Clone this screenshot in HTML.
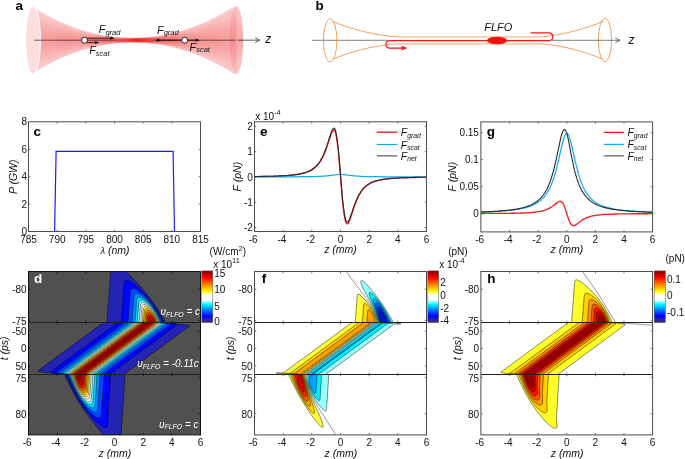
<!DOCTYPE html>
<html><head><meta charset="utf-8"><title>Figure</title>
<style>html,body{margin:0;padding:0;background:#fff;}svg{display:block;will-change:transform;}text{font-family:"Liberation Sans",sans-serif;}</style></head>
<body>
<svg width="685" height="459" viewBox="0 0 685 459" font-family="Liberation Sans, sans-serif">
<defs>
<linearGradient id="bg" x1="33" x2="237" y1="0" y2="0" gradientUnits="userSpaceOnUse"><stop offset="0" stop-color="#f04040" stop-opacity="0.030"/><stop offset="0.25" stop-color="#f04040" stop-opacity="0.045"/><stop offset="0.40" stop-color="#ee3030" stop-opacity="0.10"/><stop offset="0.47" stop-color="#ee2020" stop-opacity="0.17"/><stop offset="0.51" stop-color="#ec1414" stop-opacity="0.22"/><stop offset="0.55" stop-color="#ee2020" stop-opacity="0.17"/><stop offset="0.62" stop-color="#ee3030" stop-opacity="0.10"/><stop offset="0.77" stop-color="#f04040" stop-opacity="0.045"/><stop offset="1" stop-color="#f04040" stop-opacity="0.030"/></linearGradient>
<linearGradient id="bgb" x1="33" x2="237" y1="0" y2="0" gradientUnits="userSpaceOnUse"><stop offset="0" stop-color="#f03c3c" stop-opacity="0.26"/><stop offset="0.25" stop-color="#f03c3c" stop-opacity="0.30"/><stop offset="0.42" stop-color="#ee3030" stop-opacity="0.36"/><stop offset="0.51" stop-color="#ec2020" stop-opacity="0.45"/><stop offset="0.60" stop-color="#ee3030" stop-opacity="0.36"/><stop offset="0.77" stop-color="#f03c3c" stop-opacity="0.30"/><stop offset="1" stop-color="#f03c3c" stop-opacity="0.26"/></linearGradient>
<linearGradient id="axg" x1="34" x2="236" y1="0" y2="0" gradientUnits="userSpaceOnUse"><stop offset="0" stop-color="#2a1a1a" stop-opacity="1"/><stop offset="0.37" stop-color="#2a1a1a" stop-opacity="1"/><stop offset="0.44" stop-color="#2a1a1a" stop-opacity="0"/><stop offset="0.57" stop-color="#2a1a1a" stop-opacity="0"/><stop offset="0.63" stop-color="#2a1a1a" stop-opacity="1"/><stop offset="1" stop-color="#2a1a1a" stop-opacity="1"/></linearGradient>
<linearGradient id="eg" x1="0" x2="0" y1="6" y2="74" gradientUnits="userSpaceOnUse"><stop offset="0" stop-color="#f9b4b4"/><stop offset="0.5" stop-color="#f28888"/><stop offset="1" stop-color="#f9b4b4"/></linearGradient>
</defs>
<path d="M35.5 8.7 L39.8 11.3 L44.1 13.7 L48.3 16 L52.6 18.2 L56.9 20.3 L61.2 22.3 L65.4 24.1 L69.7 25.8 L74 27.4 L78.3 28.9 L82.5 30.3 L86.8 31.5 L91.1 32.7 L95.4 33.7 L99.6 34.6 L103.9 35.4 L108.2 36 L112.5 36.6 L116.8 37.1 L121 37.4 L125.3 37.6 L129.6 37.8 L133.9 37.8 L138.1 37.7 L142.4 37.6 L146.7 37.3 L151 36.9 L155.2 36.4 L159.5 35.8 L163.8 35.1 L168.1 34.2 L172.4 33.3 L176.6 32.2 L180.9 31 L185.2 29.7 L189.5 28.3 L193.7 26.8 L198 25.1 L202.3 23.4 L206.6 21.5 L210.8 19.5 L215.1 17.4 L219.4 15.1 L223.7 12.8 L227.9 10.3 L232.2 7.7 L236.5 6.4 L236.5 74 L232.2 72.7 L227.9 70.1 L223.7 67.6 L219.4 65.3 L215.1 63 L210.8 60.9 L206.6 58.9 L202.3 57 L198 55.3 L193.7 53.6 L189.5 52.1 L185.2 50.7 L180.9 49.4 L176.6 48.2 L172.4 47.1 L168.1 46.2 L163.8 45.3 L159.5 44.6 L155.2 44 L151 43.5 L146.7 43.1 L142.4 42.8 L138.1 42.7 L133.9 42.6 L129.6 42.6 L125.3 42.8 L121 43 L116.8 43.3 L112.5 43.8 L108.2 44.4 L103.9 45 L99.6 45.8 L95.4 46.7 L91.1 47.7 L86.8 48.9 L82.5 50.1 L78.3 51.5 L74 53 L69.7 54.6 L65.4 56.3 L61.2 58.1 L56.9 60.1 L52.6 62.2 L48.3 64.4 L44.1 66.7 L39.8 69.1 L35.5 71.7Z" fill="url(#bgb)"/>
<path d="M35.5 10.9 L39.8 13.3 L44.1 15.6 L48.3 17.7 L52.6 19.8 L56.9 21.7 L61.2 23.5 L65.4 25.2 L69.7 26.8 L74 28.3 L78.3 29.7 L82.5 31 L86.8 32.1 L91.1 33.2 L95.4 34.1 L99.6 35 L103.9 35.7 L108.2 36.3 L112.5 36.9 L116.8 37.3 L121 37.6 L125.3 37.8 L129.6 37.9 L133.9 38 L138.1 37.9 L142.4 37.7 L146.7 37.5 L151 37.1 L155.2 36.7 L159.5 36.1 L163.8 35.4 L168.1 34.6 L172.4 33.8 L176.6 32.8 L180.9 31.7 L185.2 30.5 L189.5 29.2 L193.7 27.7 L198 26.2 L202.3 24.6 L206.6 22.8 L210.8 20.9 L215.1 19 L219.4 16.9 L223.7 14.7 L227.9 12.4 L232.2 10 L236.5 8.8 L236.5 71.6 L232.2 70.4 L227.9 68 L223.7 65.7 L219.4 63.5 L215.1 61.4 L210.8 59.5 L206.6 57.6 L202.3 55.8 L198 54.2 L193.7 52.7 L189.5 51.2 L185.2 49.9 L180.9 48.7 L176.6 47.6 L172.4 46.6 L168.1 45.8 L163.8 45 L159.5 44.3 L155.2 43.7 L151 43.3 L146.7 42.9 L142.4 42.7 L138.1 42.5 L133.9 42.4 L129.6 42.5 L125.3 42.6 L121 42.8 L116.8 43.1 L112.5 43.5 L108.2 44.1 L103.9 44.7 L99.6 45.4 L95.4 46.3 L91.1 47.2 L86.8 48.3 L82.5 49.4 L78.3 50.7 L74 52.1 L69.7 53.6 L65.4 55.2 L61.2 56.9 L56.9 58.7 L52.6 60.6 L48.3 62.7 L44.1 64.8 L39.8 67.1 L35.5 69.5Z" fill="url(#bg)"/>
<path d="M35.5 13.4 L39.8 15.6 L44.1 17.7 L48.3 19.6 L52.6 21.5 L56.9 23.3 L61.2 24.9 L65.4 26.5 L69.7 28 L74 29.3 L78.3 30.6 L82.5 31.7 L86.8 32.8 L91.1 33.8 L95.4 34.6 L99.6 35.4 L103.9 36.1 L108.2 36.7 L112.5 37.1 L116.8 37.5 L121 37.8 L125.3 38 L129.6 38.1 L133.9 38.2 L138.1 38.1 L142.4 38 L146.7 37.7 L151 37.4 L155.2 37 L159.5 36.4 L163.8 35.8 L168.1 35.1 L172.4 34.3 L176.6 33.4 L180.9 32.4 L185.2 31.3 L189.5 30.1 L193.7 28.8 L198 27.4 L202.3 25.9 L206.6 24.3 L210.8 22.6 L215.1 20.8 L219.4 18.8 L223.7 16.8 L227.9 14.7 L232.2 12.5 L236.5 11.4 L236.5 69 L232.2 67.9 L227.9 65.7 L223.7 63.6 L219.4 61.6 L215.1 59.6 L210.8 57.8 L206.6 56.1 L202.3 54.5 L198 53 L193.7 51.6 L189.5 50.3 L185.2 49.1 L180.9 48 L176.6 47 L172.4 46.1 L168.1 45.3 L163.8 44.6 L159.5 44 L155.2 43.4 L151 43 L146.7 42.7 L142.4 42.4 L138.1 42.3 L133.9 42.2 L129.6 42.3 L125.3 42.4 L121 42.6 L116.8 42.9 L112.5 43.3 L108.2 43.7 L103.9 44.3 L99.6 45 L95.4 45.8 L91.1 46.6 L86.8 47.6 L82.5 48.7 L78.3 49.8 L74 51.1 L69.7 52.4 L65.4 53.9 L61.2 55.5 L56.9 57.1 L52.6 58.9 L48.3 60.8 L44.1 62.7 L39.8 64.8 L35.5 67Z" fill="url(#bg)"/>
<path d="M35.5 15.9 L39.8 17.8 L44.1 19.7 L48.3 21.5 L52.6 23.2 L56.9 24.8 L61.2 26.3 L65.4 27.7 L69.7 29.1 L74 30.3 L78.3 31.5 L82.5 32.5 L86.8 33.5 L91.1 34.4 L95.4 35.2 L99.6 35.9 L103.9 36.5 L108.2 37 L112.5 37.4 L116.8 37.8 L121 38 L125.3 38.2 L129.6 38.3 L133.9 38.3 L138.1 38.3 L142.4 38.2 L146.7 37.9 L151 37.6 L155.2 37.3 L159.5 36.8 L163.8 36.2 L168.1 35.6 L172.4 34.8 L176.6 34 L180.9 33.1 L185.2 32.1 L189.5 31 L193.7 29.8 L198 28.6 L202.3 27.2 L206.6 25.7 L210.8 24.2 L215.1 22.5 L219.4 20.8 L223.7 19 L227.9 17.1 L232.2 15 L236.5 14.1 L236.5 66.3 L232.2 65.4 L227.9 63.3 L223.7 61.4 L219.4 59.6 L215.1 57.9 L210.8 56.2 L206.6 54.7 L202.3 53.2 L198 51.8 L193.7 50.6 L189.5 49.4 L185.2 48.3 L180.9 47.3 L176.6 46.4 L172.4 45.6 L168.1 44.8 L163.8 44.2 L159.5 43.6 L155.2 43.1 L151 42.8 L146.7 42.5 L142.4 42.2 L138.1 42.1 L133.9 42.1 L129.6 42.1 L125.3 42.2 L121 42.4 L116.8 42.6 L112.5 43 L108.2 43.4 L103.9 43.9 L99.6 44.5 L95.4 45.2 L91.1 46 L86.8 46.9 L82.5 47.9 L78.3 48.9 L74 50.1 L69.7 51.3 L65.4 52.7 L61.2 54.1 L56.9 55.6 L52.6 57.2 L48.3 58.9 L44.1 60.7 L39.8 62.6 L35.5 64.5Z" fill="url(#bg)"/>
<path d="M35.5 18.3 L39.8 20.1 L44.1 21.8 L48.3 23.4 L52.6 24.9 L56.9 26.4 L61.2 27.7 L65.4 29 L69.7 30.2 L74 31.3 L78.3 32.3 L82.5 33.3 L86.8 34.2 L91.1 35 L95.4 35.7 L99.6 36.3 L103.9 36.8 L108.2 37.3 L112.5 37.7 L116.8 38 L121 38.3 L125.3 38.4 L129.6 38.5 L133.9 38.5 L138.1 38.5 L142.4 38.4 L146.7 38.2 L151 37.9 L155.2 37.6 L159.5 37.1 L163.8 36.6 L168.1 36 L172.4 35.4 L176.6 34.6 L180.9 33.8 L185.2 32.9 L189.5 31.9 L193.7 30.9 L198 29.7 L202.3 28.5 L206.6 27.2 L210.8 25.8 L215.1 24.3 L219.4 22.8 L223.7 21.1 L227.9 19.4 L232.2 17.6 L236.5 16.7 L236.5 63.7 L232.2 62.8 L227.9 61 L223.7 59.3 L219.4 57.6 L215.1 56.1 L210.8 54.6 L206.6 53.2 L202.3 51.9 L198 50.7 L193.7 49.5 L189.5 48.5 L185.2 47.5 L180.9 46.6 L176.6 45.8 L172.4 45 L168.1 44.4 L163.8 43.8 L159.5 43.3 L155.2 42.8 L151 42.5 L146.7 42.2 L142.4 42 L138.1 41.9 L133.9 41.9 L129.6 41.9 L125.3 42 L121 42.1 L116.8 42.4 L112.5 42.7 L108.2 43.1 L103.9 43.6 L99.6 44.1 L95.4 44.7 L91.1 45.4 L86.8 46.2 L82.5 47.1 L78.3 48.1 L74 49.1 L69.7 50.2 L65.4 51.4 L61.2 52.7 L56.9 54 L52.6 55.5 L48.3 57 L44.1 58.6 L39.8 60.3 L35.5 62.1Z" fill="url(#bg)"/>
<path d="M35.5 20.8 L39.8 22.4 L44.1 23.9 L48.3 25.3 L52.6 26.6 L56.9 27.9 L61.2 29.1 L65.4 30.3 L69.7 31.3 L74 32.3 L78.3 33.2 L82.5 34.1 L86.8 34.8 L91.1 35.5 L95.4 36.2 L99.6 36.7 L103.9 37.2 L108.2 37.6 L112.5 38 L116.8 38.3 L121 38.5 L125.3 38.6 L129.6 38.7 L133.9 38.7 L138.1 38.7 L142.4 38.6 L146.7 38.4 L151 38.2 L155.2 37.9 L159.5 37.5 L163.8 37 L168.1 36.5 L172.4 35.9 L176.6 35.3 L180.9 34.5 L185.2 33.7 L189.5 32.9 L193.7 31.9 L198 30.9 L202.3 29.8 L206.6 28.7 L210.8 27.4 L215.1 26.1 L219.4 24.7 L223.7 23.3 L227.9 21.7 L232.2 20.1 L236.5 19.3 L236.5 61.1 L232.2 60.3 L227.9 58.7 L223.7 57.1 L219.4 55.7 L215.1 54.3 L210.8 53 L206.6 51.7 L202.3 50.6 L198 49.5 L193.7 48.5 L189.5 47.5 L185.2 46.7 L180.9 45.9 L176.6 45.1 L172.4 44.5 L168.1 43.9 L163.8 43.4 L159.5 42.9 L155.2 42.5 L151 42.2 L146.7 42 L142.4 41.8 L138.1 41.7 L133.9 41.7 L129.6 41.7 L125.3 41.8 L121 41.9 L116.8 42.1 L112.5 42.4 L108.2 42.8 L103.9 43.2 L99.6 43.7 L95.4 44.2 L91.1 44.9 L86.8 45.6 L82.5 46.3 L78.3 47.2 L74 48.1 L69.7 49.1 L65.4 50.1 L61.2 51.3 L56.9 52.5 L52.6 53.8 L48.3 55.1 L44.1 56.5 L39.8 58 L35.5 59.6Z" fill="url(#bg)"/>
<path d="M35.5 23.2 L39.8 24.6 L44.1 25.9 L48.3 27.2 L52.6 28.4 L56.9 29.5 L61.2 30.5 L65.4 31.5 L69.7 32.4 L74 33.3 L78.3 34.1 L82.5 34.8 L86.8 35.5 L91.1 36.1 L95.4 36.7 L99.6 37.2 L103.9 37.6 L108.2 38 L112.5 38.3 L116.8 38.5 L121 38.7 L125.3 38.8 L129.6 38.9 L133.9 38.9 L138.1 38.9 L142.4 38.8 L146.7 38.6 L151 38.4 L155.2 38.1 L159.5 37.8 L163.8 37.4 L168.1 37 L172.4 36.5 L176.6 35.9 L180.9 35.3 L185.2 34.6 L189.5 33.8 L193.7 33 L198 32.1 L202.3 31.1 L206.6 30.1 L210.8 29 L215.1 27.9 L219.4 26.7 L223.7 25.4 L227.9 24.1 L232.2 22.7 L236.5 22 L236.5 58.4 L232.2 57.7 L227.9 56.3 L223.7 55 L219.4 53.7 L215.1 52.5 L210.8 51.4 L206.6 50.3 L202.3 49.3 L198 48.3 L193.7 47.4 L189.5 46.6 L185.2 45.8 L180.9 45.1 L176.6 44.5 L172.4 43.9 L168.1 43.4 L163.8 43 L159.5 42.6 L155.2 42.3 L151 42 L146.7 41.8 L142.4 41.6 L138.1 41.5 L133.9 41.5 L129.6 41.5 L125.3 41.6 L121 41.7 L116.8 41.9 L112.5 42.1 L108.2 42.4 L103.9 42.8 L99.6 43.2 L95.4 43.7 L91.1 44.3 L86.8 44.9 L82.5 45.6 L78.3 46.3 L74 47.1 L69.7 48 L65.4 48.9 L61.2 49.9 L56.9 50.9 L52.6 52 L48.3 53.2 L44.1 54.5 L39.8 55.8 L35.5 57.2Z" fill="url(#bg)"/>
<path d="M35.5 25.7 L39.8 26.9 L44.1 28 L48.3 29.1 L52.6 30.1 L56.9 31 L61.2 31.9 L65.4 32.8 L69.7 33.6 L74 34.3 L78.3 35 L82.5 35.6 L86.8 36.2 L91.1 36.7 L95.4 37.2 L99.6 37.6 L103.9 38 L108.2 38.3 L112.5 38.5 L116.8 38.8 L121 38.9 L125.3 39 L129.6 39.1 L133.9 39.1 L138.1 39.1 L142.4 39 L146.7 38.9 L151 38.7 L155.2 38.4 L159.5 38.2 L163.8 37.8 L168.1 37.4 L172.4 37 L176.6 36.5 L180.9 36 L185.2 35.4 L189.5 34.7 L193.7 34 L198 33.3 L202.3 32.4 L206.6 31.6 L210.8 30.7 L215.1 29.7 L219.4 28.6 L223.7 27.6 L227.9 26.4 L232.2 25.2 L236.5 24.6 L236.5 55.8 L232.2 55.2 L227.9 54 L223.7 52.8 L219.4 51.8 L215.1 50.7 L210.8 49.7 L206.6 48.8 L202.3 48 L198 47.1 L193.7 46.4 L189.5 45.7 L185.2 45 L180.9 44.4 L176.6 43.9 L172.4 43.4 L168.1 43 L163.8 42.6 L159.5 42.2 L155.2 42 L151 41.7 L146.7 41.5 L142.4 41.4 L138.1 41.3 L133.9 41.3 L129.6 41.3 L125.3 41.4 L121 41.5 L116.8 41.6 L112.5 41.9 L108.2 42.1 L103.9 42.4 L99.6 42.8 L95.4 43.2 L91.1 43.7 L86.8 44.2 L82.5 44.8 L78.3 45.4 L74 46.1 L69.7 46.8 L65.4 47.6 L61.2 48.5 L56.9 49.4 L52.6 50.3 L48.3 51.3 L44.1 52.4 L39.8 53.5 L35.5 54.7Z" fill="url(#bg)"/>
<path d="M35.5 28.2 L39.8 29.1 L44.1 30.1 L48.3 31 L52.6 31.8 L56.9 32.6 L61.2 33.3 L65.4 34 L69.7 34.7 L74 35.3 L78.3 35.9 L82.5 36.4 L86.8 36.9 L91.1 37.3 L95.4 37.7 L99.6 38 L103.9 38.4 L108.2 38.6 L112.5 38.8 L116.8 39 L121 39.1 L125.3 39.2 L129.6 39.3 L133.9 39.3 L138.1 39.3 L142.4 39.2 L146.7 39.1 L151 38.9 L155.2 38.7 L159.5 38.5 L163.8 38.2 L168.1 37.9 L172.4 37.6 L176.6 37.1 L180.9 36.7 L185.2 36.2 L189.5 35.7 L193.7 35.1 L198 34.4 L202.3 33.8 L206.6 33 L210.8 32.3 L215.1 31.5 L219.4 30.6 L223.7 29.7 L227.9 28.8 L232.2 27.8 L236.5 27.3 L236.5 53.1 L232.2 52.6 L227.9 51.6 L223.7 50.7 L219.4 49.8 L215.1 48.9 L210.8 48.1 L206.6 47.4 L202.3 46.6 L198 46 L193.7 45.3 L189.5 44.7 L185.2 44.2 L180.9 43.7 L176.6 43.3 L172.4 42.8 L168.1 42.5 L163.8 42.2 L159.5 41.9 L155.2 41.7 L151 41.5 L146.7 41.3 L142.4 41.2 L138.1 41.1 L133.9 41.1 L129.6 41.1 L125.3 41.2 L121 41.3 L116.8 41.4 L112.5 41.6 L108.2 41.8 L103.9 42 L99.6 42.4 L95.4 42.7 L91.1 43.1 L86.8 43.5 L82.5 44 L78.3 44.5 L74 45.1 L69.7 45.7 L65.4 46.4 L61.2 47.1 L56.9 47.8 L52.6 48.6 L48.3 49.4 L44.1 50.3 L39.8 51.3 L35.5 52.2Z" fill="url(#bg)"/>
<path d="M35.5 30.6 L39.8 31.4 L44.1 32.1 L48.3 32.8 L52.6 33.5 L56.9 34.1 L61.2 34.7 L65.4 35.3 L69.7 35.8 L74 36.3 L78.3 36.8 L82.5 37.2 L86.8 37.6 L91.1 37.9 L95.4 38.2 L99.6 38.5 L103.9 38.7 L108.2 38.9 L112.5 39.1 L116.8 39.2 L121 39.3 L125.3 39.4 L129.6 39.5 L133.9 39.5 L138.1 39.4 L142.4 39.4 L146.7 39.3 L151 39.2 L155.2 39 L159.5 38.9 L163.8 38.6 L168.1 38.4 L172.4 38.1 L176.6 37.8 L180.9 37.4 L185.2 37 L189.5 36.6 L193.7 36.1 L198 35.6 L202.3 35.1 L206.6 34.5 L210.8 33.9 L215.1 33.2 L219.4 32.6 L223.7 31.8 L227.9 31.1 L232.2 30.3 L236.5 29.9 L236.5 50.5 L232.2 50.1 L227.9 49.3 L223.7 48.6 L219.4 47.8 L215.1 47.2 L210.8 46.5 L206.6 45.9 L202.3 45.3 L198 44.8 L193.7 44.3 L189.5 43.8 L185.2 43.4 L180.9 43 L176.6 42.6 L172.4 42.3 L168.1 42 L163.8 41.8 L159.5 41.5 L155.2 41.4 L151 41.2 L146.7 41.1 L142.4 41 L138.1 41 L133.9 40.9 L129.6 40.9 L125.3 41 L121 41.1 L116.8 41.2 L112.5 41.3 L108.2 41.5 L103.9 41.7 L99.6 41.9 L95.4 42.2 L91.1 42.5 L86.8 42.8 L82.5 43.2 L78.3 43.6 L74 44.1 L69.7 44.6 L65.4 45.1 L61.2 45.7 L56.9 46.3 L52.6 46.9 L48.3 47.6 L44.1 48.3 L39.8 49 L35.5 49.8Z" fill="url(#bg)"/>
<path d="M35.5 33.1 L39.8 33.7 L44.1 34.2 L48.3 34.7 L52.6 35.2 L56.9 35.7 L61.2 36.1 L65.4 36.6 L69.7 36.9 L74 37.3 L78.3 37.6 L82.5 38 L86.8 38.2 L91.1 38.5 L95.4 38.7 L99.6 38.9 L103.9 39.1 L108.2 39.3 L112.5 39.4 L116.8 39.5 L121 39.6 L125.3 39.6 L129.6 39.6 L133.9 39.7 L138.1 39.6 L142.4 39.6 L146.7 39.5 L151 39.5 L155.2 39.3 L159.5 39.2 L163.8 39 L168.1 38.8 L172.4 38.6 L176.6 38.4 L180.9 38.1 L185.2 37.8 L189.5 37.5 L193.7 37.2 L198 36.8 L202.3 36.4 L206.6 36 L210.8 35.5 L215.1 35 L219.4 34.5 L223.7 34 L227.9 33.4 L232.2 32.8 L236.5 32.5 L236.5 47.9 L232.2 47.6 L227.9 47 L223.7 46.4 L219.4 45.9 L215.1 45.4 L210.8 44.9 L206.6 44.4 L202.3 44 L198 43.6 L193.7 43.2 L189.5 42.9 L185.2 42.6 L180.9 42.3 L176.6 42 L172.4 41.8 L168.1 41.6 L163.8 41.4 L159.5 41.2 L155.2 41.1 L151 40.9 L146.7 40.9 L142.4 40.8 L138.1 40.8 L133.9 40.7 L129.6 40.8 L125.3 40.8 L121 40.8 L116.8 40.9 L112.5 41 L108.2 41.1 L103.9 41.3 L99.6 41.5 L95.4 41.7 L91.1 41.9 L86.8 42.2 L82.5 42.4 L78.3 42.8 L74 43.1 L69.7 43.5 L65.4 43.8 L61.2 44.3 L56.9 44.7 L52.6 45.2 L48.3 45.7 L44.1 46.2 L39.8 46.7 L35.5 47.3Z" fill="url(#bg)"/>
<path d="M35.5 35.5 L39.8 35.9 L44.1 36.3 L48.3 36.6 L52.6 36.9 L56.9 37.3 L61.2 37.5 L65.4 37.8 L69.7 38.1 L74 38.3 L78.3 38.5 L82.5 38.7 L86.8 38.9 L91.1 39.1 L95.4 39.2 L99.6 39.4 L103.9 39.5 L108.2 39.6 L112.5 39.7 L116.8 39.7 L121 39.8 L125.3 39.8 L129.6 39.8 L133.9 39.8 L138.1 39.8 L142.4 39.8 L146.7 39.8 L151 39.7 L155.2 39.6 L159.5 39.5 L163.8 39.4 L168.1 39.3 L172.4 39.2 L176.6 39 L180.9 38.8 L185.2 38.6 L189.5 38.4 L193.7 38.2 L198 38 L202.3 37.7 L206.6 37.4 L210.8 37.1 L215.1 36.8 L219.4 36.5 L223.7 36.1 L227.9 35.8 L232.2 35.4 L236.5 35.2 L236.5 45.2 L232.2 45 L227.9 44.6 L223.7 44.3 L219.4 43.9 L215.1 43.6 L210.8 43.3 L206.6 43 L202.3 42.7 L198 42.4 L193.7 42.2 L189.5 42 L185.2 41.8 L180.9 41.6 L176.6 41.4 L172.4 41.2 L168.1 41.1 L163.8 41 L159.5 40.9 L155.2 40.8 L151 40.7 L146.7 40.6 L142.4 40.6 L138.1 40.6 L133.9 40.6 L129.6 40.6 L125.3 40.6 L121 40.6 L116.8 40.7 L112.5 40.7 L108.2 40.8 L103.9 40.9 L99.6 41 L95.4 41.2 L91.1 41.3 L86.8 41.5 L82.5 41.7 L78.3 41.9 L74 42.1 L69.7 42.3 L65.4 42.6 L61.2 42.9 L56.9 43.1 L52.6 43.5 L48.3 43.8 L44.1 44.1 L39.8 44.5 L35.5 44.9Z" fill="url(#bg)"/>
<ellipse cx="33.3" cy="40.2" rx="7.2" ry="33.7" fill="#fddede"/>
<path d="M33.3 6.5A7.2 33.7 0 0 1 33.3 73.9" fill="none" stroke="#fff" stroke-width="0.9" opacity="0.95"/>
<ellipse cx="236.5" cy="39.9" rx="6.7" ry="33.8" fill="url(#eg)" opacity="0.72"/>
<path d="M34 40.2 H235.6" stroke="url(#axg)" stroke-width="0.65" fill="none"/>
<line x1="237.6" y1="40.2" x2="259.4" y2="40.2" stroke="#333" stroke-width="0.8" />
<path d="M255.2 37.8L259.7 40.2L255.2 42.6" fill="none" stroke="#333" stroke-width="0.8"/>
<line x1="87" y1="38.2" x2="111.2" y2="38.2" stroke="#111" stroke-width="0.9" />
<path d="M114.6 38.2L110.4 36.6L110.4 39.8Z" fill="#111"/>
<line x1="87" y1="42.6" x2="95.9" y2="42.6" stroke="#111" stroke-width="0.9" />
<path d="M99.3 42.6L95.1 41L95.1 44.2Z" fill="#111"/>
<line x1="182" y1="40.2" x2="158.4" y2="40.2" stroke="#111" stroke-width="0.9" />
<path d="M155 40.2L159.2 38.6L159.2 41.8Z" fill="#111"/>
<line x1="187" y1="40.2" x2="196.5" y2="40.2" stroke="#111" stroke-width="0.9" />
<path d="M199.9 40.2L195.7 38.6L195.7 41.8Z" fill="#111"/>
<circle cx="84.5" cy="40.25" r="3.0" fill="#fff" stroke="#111" stroke-width="0.9"/>
<circle cx="184.7" cy="40.25" r="3.0" fill="#fff" stroke="#111" stroke-width="0.9"/>
<text x="98.8" y="33.4" font-size="10.8" font-style="italic" fill="#111">F<tspan font-size="7.5" dy="1.4">grad</tspan></text>
<text x="89.2" y="54.4" font-size="10.8" font-style="italic" fill="#111">F<tspan font-size="7.5" dy="1.4">scat</tspan></text>
<text x="157.1" y="33.9" font-size="10.8" font-style="italic" fill="#111">F<tspan font-size="7.5" dy="1.4">grad</tspan></text>
<text x="189.6" y="50.8" font-size="10.8" font-style="italic" fill="#111">F<tspan font-size="7.5" dy="1.4">scat</tspan></text>
<text x="265.2" y="43.4" font-size="12" text-anchor="start" fill="#111" font-style="italic" >z</text>
<text x="15.6" y="9.8" font-size="13.5" text-anchor="start" fill="#000" font-weight="bold" >a</text>
<text x="315.4" y="9.8" font-size="13.5" text-anchor="start" fill="#000" font-weight="bold" >b</text>
<line x1="312" y1="40.3" x2="388" y2="40.3" stroke="#4a4a4a" stroke-width="0.7" />
<path d="M332.5 21.4 L334.8 22.3 L337.2 23.2 L339.5 24.1 L341.8 24.9 L344.1 25.8 L346.5 26.5 L348.8 27.3 L351.1 28 L353.4 28.7 L355.8 29.4 L358.1 30.1 L360.4 30.7 L362.8 31.3 L365.1 31.9 L367.4 32.4 L369.7 32.9 L372.1 33.4 L374.4 33.9 L376.7 34.3 L379.1 34.7 L381.4 35.1 L383.7 35.4 L386 35.7 L388.4 36 L390.7 36.3 L393 36.5 L395.3 36.8 L397.7 36.9 L400 37.1" fill="none" stroke="#e8883c" stroke-width="0.8"/>
<path d="M537 37.1 L539.3 36.9 L541.6 36.8 L543.8 36.5 L546.1 36.3 L548.4 36 L550.7 35.7 L552.9 35.4 L555.2 35.1 L557.5 34.7 L559.8 34.3 L562 33.9 L564.3 33.4 L566.6 32.9 L568.9 32.4 L571.1 31.9 L573.4 31.3 L575.7 30.7 L578 30.1 L580.2 29.4 L582.5 28.7 L584.8 28 L587.1 27.3 L589.3 26.5 L591.6 25.8 L593.9 24.9 L596.2 24.1 L598.4 23.2 L600.7 22.3 L603 21.4" fill="none" stroke="#e8883c" stroke-width="0.8"/>
<path d="M332.5 59.2 L334.8 58.3 L337.2 57.4 L339.5 56.5 L341.8 55.7 L344.1 54.8 L346.5 54.1 L348.8 53.3 L351.1 52.6 L353.4 51.9 L355.8 51.2 L358.1 50.5 L360.4 49.9 L362.8 49.3 L365.1 48.7 L367.4 48.2 L369.7 47.7 L372.1 47.2 L374.4 46.7 L376.7 46.3 L379.1 45.9 L381.4 45.5 L383.7 45.2 L386 44.9 L388.4 44.6 L390.7 44.3 L393 44.1 L395.3 43.8 L397.7 43.7 L400 43.5" fill="none" stroke="#e8883c" stroke-width="0.8"/>
<path d="M537 43.5 L539.3 43.7 L541.6 43.8 L543.8 44.1 L546.1 44.3 L548.4 44.6 L550.7 44.9 L552.9 45.2 L555.2 45.5 L557.5 45.9 L559.8 46.3 L562 46.7 L564.3 47.2 L566.6 47.7 L568.9 48.2 L571.1 48.7 L573.4 49.3 L575.7 49.9 L578 50.5 L580.2 51.2 L582.5 51.9 L584.8 52.6 L587.1 53.3 L589.3 54.1 L591.6 54.8 L593.9 55.7 L596.2 56.5 L598.4 57.4 L600.7 58.3 L603 59.2" fill="none" stroke="#e8883c" stroke-width="0.8"/>
<line x1="399" y1="36.9" x2="538" y2="36.9" stroke="#f6cfa8" stroke-width="1.9" />
<line x1="399" y1="43.8" x2="538" y2="43.8" stroke="#f6cfa8" stroke-width="1.9" />
<ellipse cx="330.2" cy="40.4" rx="6.7" ry="21.6" fill="none" stroke="#e8883c" stroke-width="0.8"/>
<ellipse cx="605" cy="39.9" rx="6.6" ry="21.6" fill="none" stroke="#e8883c" stroke-width="0.8"/>
<line x1="552" y1="40.3" x2="619.6" y2="40.3" stroke="#4a4a4a" stroke-width="0.7" />
<path d="M615.3 38L620 40.3L615.3 42.6" fill="none" stroke="#444" stroke-width="0.8"/>
<path d="M402.5 48.1H389.6A3.7 3.7 0 0 1 389.6 40.7H549A3.9 3.9 0 0 0 549 32.9H530.5" fill="none" stroke="#f01818" stroke-width="1.3"/>
<path d="M407.3 48.1L401.8 45.8L401.8 50.4Z" fill="#f01818"/>
<ellipse cx="497" cy="40.5" rx="10" ry="3.8" fill="#f40f0f"/>
<text x="484.2" y="30.9" font-size="11" text-anchor="start" fill="#111" font-style="italic" >FLFO</text>
<text x="628.6" y="43.5" font-size="12" text-anchor="start" fill="#111" font-style="italic" >z</text>
<rect x="28.5" y="121.8" width="172" height="109.7" fill="none" stroke="#4d4d4d" stroke-width="1.0"/>
<path d="M57.2 231.5v-1.8M57.2 121.8v1.8M85.8 231.5v-1.8M85.8 121.8v1.8M114.5 231.5v-1.8M114.5 121.8v1.8M143.2 231.5v-1.8M143.2 121.8v1.8M171.8 231.5v-1.8M171.8 121.8v1.8M28.5 204.1h1.8M200.5 204.1h-1.8M28.5 176.7h1.8M200.5 176.7h-1.8M28.5 149.3h1.8M200.5 149.3h-1.8" stroke="#4d4d4d" stroke-width="0.8" fill="none"/>
<text x="28.5" y="242.9" font-size="10" text-anchor="middle" fill="#111" >785</text>
<text x="57.2" y="242.9" font-size="10" text-anchor="middle" fill="#111" >790</text>
<text x="85.8" y="242.9" font-size="10" text-anchor="middle" fill="#111" >795</text>
<text x="114.5" y="242.9" font-size="10" text-anchor="middle" fill="#111" >800</text>
<text x="143.2" y="242.9" font-size="10" text-anchor="middle" fill="#111" >805</text>
<text x="171.8" y="242.9" font-size="10" text-anchor="middle" fill="#111" >810</text>
<text x="200.5" y="242.9" font-size="10" text-anchor="middle" fill="#111" >815</text>
<text x="27" y="235.1" font-size="10" text-anchor="end" fill="#111" >0</text>
<text x="27" y="207.7" font-size="10" text-anchor="end" fill="#111" >2</text>
<text x="27" y="180.3" font-size="10" text-anchor="end" fill="#111" >4</text>
<text x="27" y="152.9" font-size="10" text-anchor="end" fill="#111" >6</text>
<text x="27" y="125.4" font-size="10" text-anchor="end" fill="#111" >8</text>
<path d="M54.6 231.5L56.1 151.4H173.1L174.5 231.5" fill="none" stroke="#1a1aff" stroke-width="1.2" stroke-linejoin="miter"/>
<text x="115" y="253.6" font-size="10.5" text-anchor="middle" fill="#111" font-style="italic" ><tspan font-size="9.2">&#955;</tspan> (nm)</text>
<text transform="translate(17.3 176.8) rotate(-90)" font-size="10.5" font-style="italic" text-anchor="middle" fill="#111">P (GW)</text>
<text x="33.4" y="135.9" font-size="13.5" text-anchor="start" fill="#000" font-weight="bold" >c</text>
<rect x="254.5" y="121.8" width="172" height="109.7" fill="none" stroke="#4d4d4d" stroke-width="1.0"/>
<path d="M283.2 231.5v-1.8M283.2 121.8v1.8M311.8 231.5v-1.8M311.8 121.8v1.8M340.5 231.5v-1.8M340.5 121.8v1.8M369.2 231.5v-1.8M369.2 121.8v1.8M397.8 231.5v-1.8M397.8 121.8v1.8M254.5 227.5h1.8M426.5 227.5h-1.8M254.5 202.2h1.8M426.5 202.2h-1.8M254.5 176.9h1.8M426.5 176.9h-1.8M254.5 151.7h1.8M426.5 151.7h-1.8M254.5 126.4h1.8M426.5 126.4h-1.8" stroke="#4d4d4d" stroke-width="0.8" fill="none"/>
<text x="253.2" y="242.9" font-size="10" text-anchor="middle" fill="#111" >-6</text>
<text x="281.9" y="242.9" font-size="10" text-anchor="middle" fill="#111" >-4</text>
<text x="310.5" y="242.9" font-size="10" text-anchor="middle" fill="#111" >-2</text>
<text x="340.5" y="242.9" font-size="10" text-anchor="middle" fill="#111" >0</text>
<text x="369.2" y="242.9" font-size="10" text-anchor="middle" fill="#111" >2</text>
<text x="397.8" y="242.9" font-size="10" text-anchor="middle" fill="#111" >4</text>
<text x="426.5" y="242.9" font-size="10" text-anchor="middle" fill="#111" >6</text>
<text x="252.8" y="231.1" font-size="10" text-anchor="end" fill="#111" >-2</text>
<text x="252.8" y="205.8" font-size="10" text-anchor="end" fill="#111" >-1</text>
<text x="252.8" y="180.5" font-size="10" text-anchor="end" fill="#111" >0</text>
<text x="252.8" y="155.3" font-size="10" text-anchor="end" fill="#111" >1</text>
<text x="252.8" y="130" font-size="10" text-anchor="end" fill="#111" >2</text>
<clipPath id="ce"><rect x="254.5" y="121.8" width="172" height="109.7"/></clipPath><g clip-path="url(#ce)">
<path d="M254.5 176.6 L255.2 176.6 L255.9 176.6 L256.6 176.6 L257.4 176.6 L258.1 176.6 L258.8 176.6 L259.5 176.5 L260.2 176.5 L260.9 176.5 L261.7 176.5 L262.4 176.5 L263.1 176.5 L263.8 176.5 L264.5 176.5 L265.2 176.4 L266 176.4 L266.7 176.4 L267.4 176.4 L268.1 176.4 L268.8 176.4 L269.6 176.3 L270.3 176.3 L271 176.3 L271.7 176.3 L272.4 176.3 L273.1 176.3 L273.9 176.2 L274.6 176.2 L275.3 176.2 L276 176.2 L276.7 176.1 L277.4 176.1 L278.1 176.1 L278.9 176 L279.6 176 L280.3 176 L281 176 L281.7 175.9 L282.4 175.9 L283.2 175.8 L283.9 175.8 L284.6 175.8 L285.3 175.7 L286 175.7 L286.8 175.6 L287.5 175.6 L288.2 175.5 L288.9 175.5 L289.6 175.4 L290.3 175.3 L291.1 175.3 L291.8 175.2 L292.5 175.1 L293.2 175 L293.9 175 L294.6 174.9 L295.4 174.8 L296.1 174.7 L296.8 174.6 L297.5 174.5 L298.2 174.4 L298.9 174.2 L299.6 174.1 L300.4 174 L301.1 173.8 L301.8 173.7 L302.5 173.5 L303.2 173.3 L303.9 173.1 L304.7 172.9 L305.4 172.7 L306.1 172.5 L306.8 172.2 L307.5 172 L308.2 171.7 L309 171.4 L309.7 171 L310.4 170.7 L311.1 170.3 L311.8 169.9 L312.6 169.4 L313.3 168.9 L314 168.4 L314.7 167.8 L315.4 167.2 L316.1 166.6 L316.9 165.8 L317.6 165.1 L318.3 164.2 L319 163.3 L319.7 162.3 L320.4 161.2 L321.1 160.1 L321.9 158.8 L322.6 157.4 L323.3 156 L324 154.4 L324.7 152.7 L325.4 150.9 L326.2 149 L326.9 146.9 L327.6 144.8 L328.3 142.6 L329 140.4 L329.8 138.2 L330.5 136 L331.2 134 L331.9 132.3 L332.6 131 L333.3 130.2 L334.1 130.1 L334.8 130.8 L335.5 132.6 L336.2 135.6 L336.9 139.8 L337.6 145.3 L338.4 151.9 L339.1 159.6 L339.8 168.1 L340.5 176.9 L341.2 185.8 L341.9 194.3 L342.6 202 L343.4 208.6 L344.1 214.1 L344.8 218.3 L345.5 221.3 L346.2 223.1 L346.9 223.8 L347.7 223.7 L348.4 222.9 L349.1 221.6 L349.8 219.9 L350.5 217.9 L351.2 215.7 L352 213.5 L352.7 211.3 L353.4 209.1 L354.1 207 L354.8 204.9 L355.6 203 L356.3 201.2 L357 199.5 L357.7 197.9 L358.4 196.5 L359.1 195.1 L359.9 193.8 L360.6 192.7 L361.3 191.6 L362 190.6 L362.7 189.7 L363.4 188.8 L364.1 188.1 L364.9 187.3 L365.6 186.7 L366.3 186.1 L367 185.5 L367.7 185 L368.4 184.5 L369.2 184 L369.9 183.6 L370.6 183.2 L371.3 182.9 L372 182.5 L372.8 182.2 L373.5 181.9 L374.2 181.7 L374.9 181.4 L375.6 181.2 L376.3 181 L377.1 180.8 L377.8 180.6 L378.5 180.4 L379.2 180.2 L379.9 180.1 L380.6 179.9 L381.4 179.8 L382.1 179.7 L382.8 179.5 L383.5 179.4 L384.2 179.3 L384.9 179.2 L385.6 179.1 L386.4 179 L387.1 178.9 L387.8 178.9 L388.5 178.8 L389.2 178.7 L390 178.6 L390.7 178.6 L391.4 178.5 L392.1 178.4 L392.8 178.4 L393.5 178.3 L394.2 178.3 L395 178.2 L395.7 178.2 L396.4 178.1 L397.1 178.1 L397.8 178.1 L398.6 178 L399.3 178 L400 177.9 L400.7 177.9 L401.4 177.9 L402.1 177.9 L402.9 177.8 L403.6 177.8 L404.3 177.8 L405 177.7 L405.7 177.7 L406.4 177.7 L407.1 177.7 L407.9 177.6 L408.6 177.6 L409.3 177.6 L410 177.6 L410.7 177.6 L411.5 177.6 L412.2 177.5 L412.9 177.5 L413.6 177.5 L414.3 177.5 L415 177.5 L415.8 177.5 L416.5 177.4 L417.2 177.4 L417.9 177.4 L418.6 177.4 L419.3 177.4 L420.1 177.4 L420.8 177.4 L421.5 177.4 L422.2 177.3 L422.9 177.3 L423.6 177.3 L424.4 177.3 L425.1 177.3 L425.8 177.3 L426.5 177.3" fill="none" stroke="#ff1a1a" stroke-width="1.35" stroke-linejoin="round"/>
<path d="M254.5 176.9 L255.2 176.9 L255.9 176.9 L256.6 176.9 L257.4 176.9 L258.1 176.9 L258.8 176.9 L259.5 176.9 L260.2 176.9 L260.9 176.9 L261.7 176.9 L262.4 176.9 L263.1 176.9 L263.8 176.9 L264.5 176.9 L265.2 176.9 L266 176.9 L266.7 176.9 L267.4 176.9 L268.1 176.9 L268.8 176.9 L269.6 176.9 L270.3 176.9 L271 176.9 L271.7 176.9 L272.4 176.9 L273.1 176.9 L273.9 176.9 L274.6 176.9 L275.3 176.9 L276 176.9 L276.7 176.9 L277.4 176.9 L278.1 176.9 L278.9 176.9 L279.6 176.9 L280.3 176.9 L281 176.9 L281.7 176.9 L282.4 176.9 L283.2 176.9 L283.9 176.8 L284.6 176.8 L285.3 176.8 L286 176.8 L286.8 176.8 L287.5 176.8 L288.2 176.8 L288.9 176.8 L289.6 176.8 L290.3 176.8 L291.1 176.8 L291.8 176.8 L292.5 176.8 L293.2 176.8 L293.9 176.8 L294.6 176.8 L295.4 176.8 L296.1 176.8 L296.8 176.8 L297.5 176.8 L298.2 176.8 L298.9 176.8 L299.6 176.8 L300.4 176.8 L301.1 176.7 L301.8 176.7 L302.5 176.7 L303.2 176.7 L303.9 176.7 L304.7 176.7 L305.4 176.7 L306.1 176.7 L306.8 176.7 L307.5 176.7 L308.2 176.7 L309 176.6 L309.7 176.6 L310.4 176.6 L311.1 176.6 L311.8 176.6 L312.6 176.6 L313.3 176.6 L314 176.5 L314.7 176.5 L315.4 176.5 L316.1 176.5 L316.9 176.5 L317.6 176.4 L318.3 176.4 L319 176.4 L319.7 176.3 L320.4 176.3 L321.1 176.3 L321.9 176.2 L322.6 176.2 L323.3 176.2 L324 176.1 L324.7 176.1 L325.4 176 L326.2 175.9 L326.9 175.9 L327.6 175.8 L328.3 175.7 L329 175.7 L329.8 175.6 L330.5 175.5 L331.2 175.4 L331.9 175.3 L332.6 175.2 L333.3 175.1 L334.1 175 L334.8 174.9 L335.5 174.8 L336.2 174.7 L336.9 174.6 L337.6 174.6 L338.4 174.5 L339.1 174.5 L339.8 174.4 L340.5 174.4 L341.2 174.4 L341.9 174.5 L342.6 174.5 L343.4 174.6 L344.1 174.6 L344.8 174.7 L345.5 174.8 L346.2 174.9 L346.9 175 L347.7 175.1 L348.4 175.2 L349.1 175.3 L349.8 175.4 L350.5 175.5 L351.2 175.6 L352 175.7 L352.7 175.7 L353.4 175.8 L354.1 175.9 L354.8 175.9 L355.6 176 L356.3 176.1 L357 176.1 L357.7 176.2 L358.4 176.2 L359.1 176.2 L359.9 176.3 L360.6 176.3 L361.3 176.3 L362 176.4 L362.7 176.4 L363.4 176.4 L364.1 176.5 L364.9 176.5 L365.6 176.5 L366.3 176.5 L367 176.5 L367.7 176.6 L368.4 176.6 L369.2 176.6 L369.9 176.6 L370.6 176.6 L371.3 176.6 L372 176.6 L372.8 176.7 L373.5 176.7 L374.2 176.7 L374.9 176.7 L375.6 176.7 L376.3 176.7 L377.1 176.7 L377.8 176.7 L378.5 176.7 L379.2 176.7 L379.9 176.7 L380.6 176.8 L381.4 176.8 L382.1 176.8 L382.8 176.8 L383.5 176.8 L384.2 176.8 L384.9 176.8 L385.6 176.8 L386.4 176.8 L387.1 176.8 L387.8 176.8 L388.5 176.8 L389.2 176.8 L390 176.8 L390.7 176.8 L391.4 176.8 L392.1 176.8 L392.8 176.8 L393.5 176.8 L394.2 176.8 L395 176.8 L395.7 176.8 L396.4 176.8 L397.1 176.8 L397.8 176.9 L398.6 176.9 L399.3 176.9 L400 176.9 L400.7 176.9 L401.4 176.9 L402.1 176.9 L402.9 176.9 L403.6 176.9 L404.3 176.9 L405 176.9 L405.7 176.9 L406.4 176.9 L407.1 176.9 L407.9 176.9 L408.6 176.9 L409.3 176.9 L410 176.9 L410.7 176.9 L411.5 176.9 L412.2 176.9 L412.9 176.9 L413.6 176.9 L414.3 176.9 L415 176.9 L415.8 176.9 L416.5 176.9 L417.2 176.9 L417.9 176.9 L418.6 176.9 L419.3 176.9 L420.1 176.9 L420.8 176.9 L421.5 176.9 L422.2 176.9 L422.9 176.9 L423.6 176.9 L424.4 176.9 L425.1 176.9 L425.8 176.9 L426.5 176.9" fill="none" stroke="#12a8f0" stroke-width="1.2" stroke-linejoin="round"/>
<path d="M254.5 176.6 L255.2 176.6 L255.9 176.5 L256.6 176.5 L257.4 176.5 L258.1 176.5 L258.8 176.5 L259.5 176.5 L260.2 176.5 L260.9 176.5 L261.7 176.5 L262.4 176.4 L263.1 176.4 L263.8 176.4 L264.5 176.4 L265.2 176.4 L266 176.4 L266.7 176.4 L267.4 176.3 L268.1 176.3 L268.8 176.3 L269.6 176.3 L270.3 176.3 L271 176.2 L271.7 176.2 L272.4 176.2 L273.1 176.2 L273.9 176.2 L274.6 176.1 L275.3 176.1 L276 176.1 L276.7 176.1 L277.4 176 L278.1 176 L278.9 176 L279.6 175.9 L280.3 175.9 L281 175.9 L281.7 175.8 L282.4 175.8 L283.2 175.7 L283.9 175.7 L284.6 175.7 L285.3 175.6 L286 175.6 L286.8 175.5 L287.5 175.5 L288.2 175.4 L288.9 175.3 L289.6 175.3 L290.3 175.2 L291.1 175.1 L291.8 175.1 L292.5 175 L293.2 174.9 L293.9 174.8 L294.6 174.7 L295.4 174.6 L296.1 174.5 L296.8 174.4 L297.5 174.3 L298.2 174.2 L298.9 174.1 L299.6 173.9 L300.4 173.8 L301.1 173.6 L301.8 173.5 L302.5 173.3 L303.2 173.1 L303.9 172.9 L304.7 172.7 L305.4 172.5 L306.1 172.2 L306.8 172 L307.5 171.7 L308.2 171.4 L309 171.1 L309.7 170.7 L310.4 170.3 L311.1 169.9 L311.8 169.5 L312.6 169 L313.3 168.5 L314 168 L314.7 167.4 L315.4 166.8 L316.1 166.1 L316.9 165.4 L317.6 164.6 L318.3 163.7 L319 162.7 L319.7 161.7 L320.4 160.6 L321.1 159.4 L321.9 158.1 L322.6 156.7 L323.3 155.2 L324 153.6 L324.7 151.8 L325.4 149.9 L326.2 147.9 L326.9 145.9 L327.6 143.7 L328.3 141.4 L329 139.1 L329.8 136.8 L330.5 134.6 L331.2 132.5 L331.9 130.7 L332.6 129.3 L333.3 128.4 L334.1 128.1 L334.8 128.8 L335.5 130.5 L336.2 133.3 L336.9 137.5 L337.6 142.9 L338.4 149.5 L339.1 157.2 L339.8 165.6 L340.5 174.4 L341.2 183.3 L341.9 191.8 L342.6 199.5 L343.4 206.3 L344.1 211.8 L344.8 216.1 L345.5 219.2 L346.2 221 L346.9 221.9 L347.7 221.9 L348.4 221.2 L349.1 219.9 L349.8 218.3 L350.5 216.4 L351.2 214.4 L352 212.2 L352.7 210.1 L353.4 208 L354.1 205.9 L354.8 203.9 L355.6 202.1 L356.3 200.3 L357 198.7 L357.7 197.1 L358.4 195.7 L359.1 194.4 L359.9 193.2 L360.6 192 L361.3 191 L362 190 L362.7 189.1 L363.4 188.3 L364.1 187.6 L364.9 186.9 L365.6 186.2 L366.3 185.6 L367 185.1 L367.7 184.6 L368.4 184.1 L369.2 183.7 L369.9 183.3 L370.6 182.9 L371.3 182.6 L372 182.2 L372.8 181.9 L373.5 181.7 L374.2 181.4 L374.9 181.2 L375.6 180.9 L376.3 180.7 L377.1 180.5 L377.8 180.4 L378.5 180.2 L379.2 180 L379.9 179.9 L380.6 179.7 L381.4 179.6 L382.1 179.5 L382.8 179.4 L383.5 179.2 L384.2 179.1 L384.9 179 L385.6 179 L386.4 178.9 L387.1 178.8 L387.8 178.7 L388.5 178.6 L389.2 178.6 L390 178.5 L390.7 178.4 L391.4 178.4 L392.1 178.3 L392.8 178.3 L393.5 178.2 L394.2 178.2 L395 178.1 L395.7 178.1 L396.4 178 L397.1 178 L397.8 178 L398.6 177.9 L399.3 177.9 L400 177.9 L400.7 177.8 L401.4 177.8 L402.1 177.8 L402.9 177.7 L403.6 177.7 L404.3 177.7 L405 177.7 L405.7 177.6 L406.4 177.6 L407.1 177.6 L407.9 177.6 L408.6 177.6 L409.3 177.5 L410 177.5 L410.7 177.5 L411.5 177.5 L412.2 177.5 L412.9 177.5 L413.6 177.4 L414.3 177.4 L415 177.4 L415.8 177.4 L416.5 177.4 L417.2 177.4 L417.9 177.4 L418.6 177.3 L419.3 177.3 L420.1 177.3 L420.8 177.3 L421.5 177.3 L422.2 177.3 L422.9 177.3 L423.6 177.3 L424.4 177.3 L425.1 177.3 L425.8 177.3 L426.5 177.2" fill="none" stroke="#2a2a2a" stroke-width="1.1" stroke-linejoin="round"/>
</g>
<line x1="376.8" y1="132.2" x2="397.4" y2="132.2" stroke="#ff1a1a" stroke-width="1.35" />
<text x="400.8" y="136.2" font-size="10.5" font-style="italic" fill="#111">F<tspan font-size="6.8" dy="1.3">grad</tspan></text>
<line x1="376.8" y1="144.5" x2="397.4" y2="144.5" stroke="#12a8f0" stroke-width="1.2" />
<text x="400.8" y="148.5" font-size="10.5" font-style="italic" fill="#111">F<tspan font-size="6.8" dy="1.3">scat</tspan></text>
<line x1="376.8" y1="155.9" x2="397.4" y2="155.9" stroke="#3a3a3a" stroke-width="1.0" />
<text x="400.8" y="159.9" font-size="10.5" font-style="italic" fill="#111">F<tspan font-size="6.8" dy="1.3">net</tspan></text>
<text x="255.2" y="120.0" font-size="10" fill="#111">x 10<tspan font-size="7.5" dy="-5.4">-4</tspan></text>
<text x="340.5" y="252.6" font-size="10.5" text-anchor="middle" fill="#111" font-style="italic" >z (mm)</text>
<text transform="translate(241 176.6) rotate(-90)" font-size="10.5" font-style="italic" text-anchor="middle" fill="#111">F (pN)</text>
<text x="260.1" y="135.9" font-size="13.5" text-anchor="start" fill="#000" font-weight="bold" >e</text>
<rect x="480.9" y="121.9" width="171.7" height="110" fill="none" stroke="#4d4d4d" stroke-width="1.0"/>
<path d="M509.5 231.9v-1.8M509.5 121.9v1.8M538.1 231.9v-1.8M538.1 121.9v1.8M566.8 231.9v-1.8M566.8 121.9v1.8M595.4 231.9v-1.8M595.4 121.9v1.8M624 231.9v-1.8M624 121.9v1.8M480.9 213.6h1.8M652.6 213.6h-1.8M480.9 186.6h1.8M652.6 186.6h-1.8M480.9 159.6h1.8M652.6 159.6h-1.8M480.9 132.6h1.8M652.6 132.6h-1.8" stroke="#4d4d4d" stroke-width="0.8" fill="none"/>
<text x="479.6" y="242.9" font-size="10" text-anchor="middle" fill="#111" >-6</text>
<text x="508.2" y="242.9" font-size="10" text-anchor="middle" fill="#111" >-4</text>
<text x="536.8" y="242.9" font-size="10" text-anchor="middle" fill="#111" >-2</text>
<text x="566.8" y="242.9" font-size="10" text-anchor="middle" fill="#111" >0</text>
<text x="595.4" y="242.9" font-size="10" text-anchor="middle" fill="#111" >2</text>
<text x="624" y="242.9" font-size="10" text-anchor="middle" fill="#111" >4</text>
<text x="652.6" y="242.9" font-size="10" text-anchor="middle" fill="#111" >6</text>
<text x="478.9" y="217.4" font-size="10" text-anchor="end" fill="#111" >0</text>
<text x="478.9" y="190.4" font-size="10" text-anchor="end" fill="#111" >0.05</text>
<text x="478.9" y="163.4" font-size="10" text-anchor="end" fill="#111" >0.1</text>
<text x="478.9" y="136.4" font-size="10" text-anchor="end" fill="#111" >0.15</text>
<clipPath id="cg"><rect x="480.9" y="121.9" width="171.7" height="110"/></clipPath><g clip-path="url(#cg)">
<path d="M480.9 213.5 L481.6 213.5 L482.3 213.5 L483 213.5 L483.8 213.5 L484.5 213.4 L485.2 213.4 L485.9 213.4 L486.6 213.4 L487.3 213.4 L488.1 213.4 L488.8 213.4 L489.5 213.4 L490.2 213.4 L490.9 213.4 L491.6 213.4 L492.3 213.4 L493.1 213.4 L493.8 213.4 L494.5 213.4 L495.2 213.4 L495.9 213.4 L496.6 213.4 L497.4 213.4 L498.1 213.4 L498.8 213.4 L499.5 213.4 L500.2 213.4 L500.9 213.4 L501.6 213.4 L502.4 213.3 L503.1 213.3 L503.8 213.3 L504.5 213.3 L505.2 213.3 L505.9 213.3 L506.7 213.3 L507.4 213.3 L508.1 213.3 L508.8 213.3 L509.5 213.3 L510.2 213.3 L510.9 213.2 L511.7 213.2 L512.4 213.2 L513.1 213.2 L513.8 213.2 L514.5 213.2 L515.2 213.2 L516 213.1 L516.7 213.1 L517.4 213.1 L518.1 213.1 L518.8 213.1 L519.5 213.1 L520.2 213 L521 213 L521.7 213 L522.4 213 L523.1 212.9 L523.8 212.9 L524.5 212.9 L525.3 212.8 L526 212.8 L526.7 212.8 L527.4 212.7 L528.1 212.7 L528.8 212.7 L529.5 212.6 L530.3 212.6 L531 212.5 L531.7 212.5 L532.4 212.4 L533.1 212.3 L533.8 212.3 L534.6 212.2 L535.3 212.1 L536 212 L536.7 211.9 L537.4 211.8 L538.1 211.7 L538.8 211.6 L539.6 211.5 L540.3 211.3 L541 211.2 L541.7 211 L542.4 210.9 L543.1 210.7 L543.9 210.5 L544.6 210.3 L545.3 210 L546 209.8 L546.7 209.5 L547.4 209.2 L548.1 208.8 L548.9 208.5 L549.6 208.1 L550.3 207.7 L551 207.3 L551.7 206.8 L552.4 206.3 L553.2 205.8 L553.9 205.2 L554.6 204.6 L555.3 204.1 L556 203.5 L556.7 202.9 L557.4 202.4 L558.2 202 L558.9 201.6 L559.6 201.4 L560.3 201.4 L561 201.6 L561.7 202.1 L562.5 202.8 L563.2 203.9 L563.9 205.3 L564.6 207.1 L565.3 209.1 L566 211.3 L566.8 213.6 L567.5 215.8 L568.2 218 L568.9 220 L569.6 221.8 L570.3 223.2 L571 224.3 L571.8 225 L572.5 225.5 L573.2 225.7 L573.9 225.7 L574.6 225.5 L575.3 225.1 L576.1 224.7 L576.8 224.2 L577.5 223.6 L578.2 223 L578.9 222.5 L579.6 221.9 L580.3 221.3 L581.1 220.8 L581.8 220.3 L582.5 219.8 L583.2 219.4 L583.9 219 L584.6 218.6 L585.4 218.3 L586.1 217.9 L586.8 217.6 L587.5 217.3 L588.2 217.1 L588.9 216.8 L589.6 216.6 L590.4 216.4 L591.1 216.2 L591.8 216.1 L592.5 215.9 L593.2 215.8 L593.9 215.6 L594.7 215.5 L595.4 215.4 L596.1 215.3 L596.8 215.2 L597.5 215.1 L598.2 215 L598.9 214.9 L599.7 214.8 L600.4 214.8 L601.1 214.7 L601.8 214.6 L602.5 214.6 L603.2 214.5 L604 214.5 L604.7 214.4 L605.4 214.4 L606.1 214.4 L606.8 214.3 L607.5 214.3 L608.2 214.3 L609 214.2 L609.7 214.2 L610.4 214.2 L611.1 214.1 L611.8 214.1 L612.5 214.1 L613.3 214.1 L614 214 L614.7 214 L615.4 214 L616.1 214 L616.8 214 L617.5 214 L618.3 213.9 L619 213.9 L619.7 213.9 L620.4 213.9 L621.1 213.9 L621.8 213.9 L622.6 213.9 L623.3 213.8 L624 213.8 L624.7 213.8 L625.4 213.8 L626.1 213.8 L626.8 213.8 L627.6 213.8 L628.3 213.8 L629 213.8 L629.7 213.8 L630.4 213.8 L631.1 213.8 L631.9 213.7 L632.6 213.7 L633.3 213.7 L634 213.7 L634.7 213.7 L635.4 213.7 L636.1 213.7 L636.9 213.7 L637.6 213.7 L638.3 213.7 L639 213.7 L639.7 213.7 L640.4 213.7 L641.2 213.7 L641.9 213.7 L642.6 213.7 L643.3 213.7 L644 213.7 L644.7 213.7 L645.4 213.7 L646.2 213.7 L646.9 213.7 L647.6 213.7 L648.3 213.7 L649 213.7 L649.7 213.6 L650.5 213.6 L651.2 213.6 L651.9 213.6 L652.6 213.6" fill="none" stroke="#ff1a1a" stroke-width="1.35" stroke-linejoin="round"/>
<path d="M480.9 212.1 L481.6 212.1 L482.3 212.1 L483 212 L483.8 212 L484.5 212 L485.2 212 L485.9 211.9 L486.6 211.9 L487.3 211.9 L488.1 211.8 L488.8 211.8 L489.5 211.8 L490.2 211.8 L490.9 211.7 L491.6 211.7 L492.3 211.7 L493.1 211.6 L493.8 211.6 L494.5 211.5 L495.2 211.5 L495.9 211.5 L496.6 211.4 L497.4 211.4 L498.1 211.3 L498.8 211.3 L499.5 211.2 L500.2 211.2 L500.9 211.1 L501.6 211.1 L502.4 211 L503.1 211 L503.8 210.9 L504.5 210.9 L505.2 210.8 L505.9 210.7 L506.7 210.7 L507.4 210.6 L508.1 210.5 L508.8 210.5 L509.5 210.4 L510.2 210.3 L510.9 210.2 L511.7 210.2 L512.4 210.1 L513.1 210 L513.8 209.9 L514.5 209.8 L515.2 209.7 L516 209.6 L516.7 209.5 L517.4 209.4 L518.1 209.2 L518.8 209.1 L519.5 209 L520.2 208.9 L521 208.7 L521.7 208.6 L522.4 208.4 L523.1 208.3 L523.8 208.1 L524.5 207.9 L525.3 207.7 L526 207.6 L526.7 207.4 L527.4 207.1 L528.1 206.9 L528.8 206.7 L529.5 206.5 L530.3 206.2 L531 205.9 L531.7 205.6 L532.4 205.3 L533.1 205 L533.8 204.7 L534.6 204.3 L535.3 204 L536 203.6 L536.7 203.2 L537.4 202.7 L538.1 202.3 L538.8 201.7 L539.6 201.2 L540.3 200.7 L541 200 L541.7 199.4 L542.4 198.7 L543.1 198 L543.9 197.2 L544.6 196.3 L545.3 195.4 L546 194.5 L546.7 193.4 L547.4 192.3 L548.1 191.1 L548.9 189.8 L549.6 188.4 L550.3 187 L551 185.4 L551.7 183.6 L552.4 181.8 L553.2 179.8 L553.9 177.7 L554.6 175.4 L555.3 173 L556 170.4 L556.7 167.6 L557.4 164.8 L558.2 161.8 L558.9 158.7 L559.6 155.5 L560.3 152.3 L561 149.1 L561.7 146 L562.5 143 L563.2 140.3 L563.9 138 L564.6 136 L565.3 134.6 L566 133.7 L566.8 133.4 L567.5 133.7 L568.2 134.6 L568.9 136 L569.6 138 L570.3 140.3 L571 143 L571.8 146 L572.5 149.1 L573.2 152.3 L573.9 155.5 L574.6 158.7 L575.3 161.8 L576.1 164.8 L576.8 167.6 L577.5 170.4 L578.2 173 L578.9 175.4 L579.6 177.7 L580.3 179.8 L581.1 181.8 L581.8 183.6 L582.5 185.4 L583.2 187 L583.9 188.4 L584.6 189.8 L585.4 191.1 L586.1 192.3 L586.8 193.4 L587.5 194.5 L588.2 195.4 L588.9 196.3 L589.6 197.2 L590.4 198 L591.1 198.7 L591.8 199.4 L592.5 200 L593.2 200.7 L593.9 201.2 L594.7 201.7 L595.4 202.3 L596.1 202.7 L596.8 203.2 L597.5 203.6 L598.2 204 L598.9 204.3 L599.7 204.7 L600.4 205 L601.1 205.3 L601.8 205.6 L602.5 205.9 L603.2 206.2 L604 206.5 L604.7 206.7 L605.4 206.9 L606.1 207.1 L606.8 207.4 L607.5 207.6 L608.2 207.7 L609 207.9 L609.7 208.1 L610.4 208.3 L611.1 208.4 L611.8 208.6 L612.5 208.7 L613.3 208.9 L614 209 L614.7 209.1 L615.4 209.2 L616.1 209.4 L616.8 209.5 L617.5 209.6 L618.3 209.7 L619 209.8 L619.7 209.9 L620.4 210 L621.1 210.1 L621.8 210.2 L622.6 210.2 L623.3 210.3 L624 210.4 L624.7 210.5 L625.4 210.5 L626.1 210.6 L626.8 210.7 L627.6 210.7 L628.3 210.8 L629 210.9 L629.7 210.9 L630.4 211 L631.1 211 L631.9 211.1 L632.6 211.1 L633.3 211.2 L634 211.2 L634.7 211.3 L635.4 211.3 L636.1 211.4 L636.9 211.4 L637.6 211.5 L638.3 211.5 L639 211.5 L639.7 211.6 L640.4 211.6 L641.2 211.7 L641.9 211.7 L642.6 211.7 L643.3 211.8 L644 211.8 L644.7 211.8 L645.4 211.8 L646.2 211.9 L646.9 211.9 L647.6 211.9 L648.3 212 L649 212 L649.7 212 L650.5 212 L651.2 212.1 L651.9 212.1 L652.6 212.1" fill="none" stroke="#12a8f0" stroke-width="1.2" stroke-linejoin="round"/>
<path d="M480.9 212 L481.6 212 L482.3 212 L483 211.9 L483.8 211.9 L484.5 211.9 L485.2 211.9 L485.9 211.8 L486.6 211.8 L487.3 211.8 L488.1 211.7 L488.8 211.7 L489.5 211.7 L490.2 211.6 L490.9 211.6 L491.6 211.6 L492.3 211.5 L493.1 211.5 L493.8 211.4 L494.5 211.4 L495.2 211.3 L495.9 211.3 L496.6 211.3 L497.4 211.2 L498.1 211.2 L498.8 211.1 L499.5 211.1 L500.2 211 L500.9 210.9 L501.6 210.9 L502.4 210.8 L503.1 210.8 L503.8 210.7 L504.5 210.6 L505.2 210.6 L505.9 210.5 L506.7 210.4 L507.4 210.3 L508.1 210.3 L508.8 210.2 L509.5 210.1 L510.2 210 L510.9 209.9 L511.7 209.8 L512.4 209.7 L513.1 209.6 L513.8 209.5 L514.5 209.4 L515.2 209.3 L516 209.2 L516.7 209.1 L517.4 208.9 L518.1 208.8 L518.8 208.6 L519.5 208.5 L520.2 208.3 L521 208.2 L521.7 208 L522.4 207.8 L523.1 207.7 L523.8 207.5 L524.5 207.3 L525.3 207 L526 206.8 L526.7 206.6 L527.4 206.3 L528.1 206.1 L528.8 205.8 L529.5 205.5 L530.3 205.2 L531 204.9 L531.7 204.5 L532.4 204.2 L533.1 203.8 L533.8 203.4 L534.6 203 L535.3 202.5 L536 202 L536.7 201.5 L537.4 201 L538.1 200.4 L538.8 199.8 L539.6 199.1 L540.3 198.4 L541 197.7 L541.7 196.9 L542.4 196 L543.1 195.1 L543.9 194.1 L544.6 193.1 L545.3 191.9 L546 190.7 L546.7 189.4 L547.4 187.9 L548.1 186.4 L548.9 184.8 L549.6 183 L550.3 181.1 L551 179.1 L551.7 176.9 L552.4 174.5 L553.2 172 L553.9 169.3 L554.6 166.5 L555.3 163.5 L556 160.3 L556.7 157 L557.4 153.7 L558.2 150.2 L558.9 146.8 L559.6 143.4 L560.3 140.1 L561 137.1 L561.7 134.5 L562.5 132.3 L563.2 130.7 L563.9 129.8 L564.6 129.5 L565.3 130.1 L566 131.4 L566.8 133.4 L567.5 136 L568.2 139 L568.9 142.5 L569.6 146.2 L570.3 150 L571 153.8 L571.8 157.5 L572.5 161 L573.2 164.4 L573.9 167.6 L574.6 170.6 L575.3 173.3 L576.1 175.9 L576.8 178.3 L577.5 180.4 L578.2 182.4 L578.9 184.3 L579.6 186 L580.3 187.6 L581.1 189 L581.8 190.4 L582.5 191.6 L583.2 192.8 L583.9 193.9 L584.6 194.9 L585.4 195.8 L586.1 196.7 L586.8 197.5 L587.5 198.3 L588.2 199 L588.9 199.6 L589.6 200.3 L590.4 200.9 L591.1 201.4 L591.8 201.9 L592.5 202.4 L593.2 202.9 L593.9 203.3 L594.7 203.7 L595.4 204.1 L596.1 204.4 L596.8 204.8 L597.5 205.1 L598.2 205.4 L598.9 205.7 L599.7 206 L600.4 206.3 L601.1 206.5 L601.8 206.7 L602.5 207 L603.2 207.2 L604 207.4 L604.7 207.6 L605.4 207.8 L606.1 208 L606.8 208.1 L607.5 208.3 L608.2 208.4 L609 208.6 L609.7 208.7 L610.4 208.9 L611.1 209 L611.8 209.1 L612.5 209.3 L613.3 209.4 L614 209.5 L614.7 209.6 L615.4 209.7 L616.1 209.8 L616.8 209.9 L617.5 210 L618.3 210.1 L619 210.2 L619.7 210.2 L620.4 210.3 L621.1 210.4 L621.8 210.5 L622.6 210.5 L623.3 210.6 L624 210.7 L624.7 210.7 L625.4 210.8 L626.1 210.9 L626.8 210.9 L627.6 211 L628.3 211 L629 211.1 L629.7 211.1 L630.4 211.2 L631.1 211.2 L631.9 211.3 L632.6 211.3 L633.3 211.4 L634 211.4 L634.7 211.5 L635.4 211.5 L636.1 211.5 L636.9 211.6 L637.6 211.6 L638.3 211.7 L639 211.7 L639.7 211.7 L640.4 211.8 L641.2 211.8 L641.9 211.8 L642.6 211.8 L643.3 211.9 L644 211.9 L644.7 211.9 L645.4 212 L646.2 212 L646.9 212 L647.6 212 L648.3 212.1 L649 212.1 L649.7 212.1 L650.5 212.1 L651.2 212.2 L651.9 212.2 L652.6 212.2" fill="none" stroke="#2a2a2a" stroke-width="1.1" stroke-linejoin="round"/>
</g>
<line x1="603.8" y1="132.4" x2="623.8" y2="132.4" stroke="#ff1a1a" stroke-width="1.35" />
<text x="627.4" y="136.4" font-size="10.5" font-style="italic" fill="#111">F<tspan font-size="6.8" dy="1.3">grad</tspan></text>
<line x1="603.8" y1="144.4" x2="623.8" y2="144.4" stroke="#12a8f0" stroke-width="1.2" />
<text x="627.4" y="148.4" font-size="10.5" font-style="italic" fill="#111">F<tspan font-size="6.8" dy="1.3">scat</tspan></text>
<line x1="603.8" y1="155.9" x2="623.8" y2="155.9" stroke="#3a3a3a" stroke-width="1.0" />
<text x="627.4" y="159.9" font-size="10.5" font-style="italic" fill="#111">F<tspan font-size="6.8" dy="1.3">net</tspan></text>
<text x="566.8" y="252.6" font-size="10.5" text-anchor="middle" fill="#111" font-style="italic" >z (mm)</text>
<text transform="translate(455.5 176.6) rotate(-90)" font-size="10.5" font-style="italic" text-anchor="middle" fill="#111">F (pN)</text>
<text x="486.8" y="135.7" font-size="13.5" text-anchor="start" fill="#000" font-weight="bold" >g</text>
<rect x="28.5" y="271.5" width="172" height="163.4" fill="#505050"/>
<clipPath id="cdT"><rect x="28.5" y="271.50" width="172" height="50.70"/></clipPath>
<g clip-path="url(#cdT)" stroke="#000" stroke-width="0.45" stroke-linejoin="round" fill-rule="evenodd">
<path d="M110.7 271.5 126.6 271.5 127.7 273 134.9 280.5 141.5 287.8 146.4 293.5 150.7 299 154.7 304.5 158.7 310.8 163.9 319.5 165.3 322.5 106.9 322.5Z" fill="#2424b4"/>
<path d="M125.5 280.2 126.5 280 128.1 280.4 130.1 281.4 132.9 283.2 139.3 288.6 145.9 295.2 151.1 301.5 155.5 307.8 160.7 316.5 163 320.8 163.7 322.5 121.2 322.5 124.2 283.8 124.6 281.5 124.9 280.8Z" fill="#0005ff"/>
<path d="M131.6 288.5 132.5 288.3 134.1 288.5 136.1 289.3 138.1 290.5 142.9 294.3 147.7 299 151.9 304 155.5 309.2 160 317 161.9 320.8 162.6 322.5 127.9 322.5 130.2 292 130.6 289.8 131 289Z" fill="#0048ff"/>
<path d="M135.7 293.5 136.9 293.4 138.1 293.6 141.3 295.2 145.3 298.2 149.3 302.2 152.7 306.5 155.9 311.2 159.9 318.5 161.6 322.5 132 322.5 133.9 297 134.5 294.6 134.9 294Z" fill="#008cff"/>
<path d="M138.2 297.2 139.3 297 140.5 297.2 143.3 298.4 146.5 300.8 149.7 303.9 152.9 307.9 155.9 312.5 159.1 318.5 160.8 322.5 134.9 322.5 136.6 300.5 137.2 298.2Z" fill="#00daff"/>
<path d="M140.7 300 142.5 300.1 144.9 301.1 147.7 303.2 150.5 306 153.3 309.6 155.9 313.8 158.8 319.2 160 322.5 137.2 322.5 138.7 303.2 139.4 301 140.1 300.2Z" fill="#6effff"/>
<path d="M142.1 302.5 143.7 302.4 146.1 303.4 148.5 305.2 150.9 307.6 153.3 310.7 155.6 314.5 158.2 319.5 159.3 322.5 139.1 322.5 140.4 305.8 140.9 303.7 141.4 303Z" fill="#ffffff"/>
<path d="M144 304.5 145.7 304.7 147.7 305.8 149.7 307.5 151.7 309.7 153.7 312.4 155.7 315.8 157.8 320 158.7 322.5 140.7 322.5 141.9 307.2 142.3 306 142.7 305.2 143.3 304.7Z" fill="#ffffff"/>
<path d="M145.1 306.5 146.5 306.6 148.1 307.4 149.7 308.6 151.7 310.8 153.7 313.5 155.3 316.3 157.2 320.3 158 322.5 142.1 322.5 143.2 309.2 143.9 307.2 144.5 306.7Z" fill="#ffff3d"/>
<path d="M145.7 308.5 146.9 308.4 148.5 309 150.1 310.2 151.7 311.9 153.3 314.1 154.9 316.8 156.6 320.2 157.4 322.5 143.4 322.5 144.3 311.2 144.9 309.3Z" fill="#ffd200"/>
<path d="M147 310.2 148.1 310.3 149.3 310.9 150.5 311.8 152.1 313.6 153.7 315.9 154.9 318.1 156.1 320.8 156.7 322.5 144.6 322.5 145.5 312.5 146.1 310.9Z" fill="#ff9700"/>
<path d="M147.7 312.2 148.5 312.1 149.7 312.6 150.9 313.5 152.1 314.9 154.5 318.7 155.5 321 156 322.5 145.9 322.5 146.5 314.5 146.9 313.1Z" fill="#ff5800"/>
<path d="M148.8 314.2 149.3 314.2 150.1 314.4 150.9 315 152.1 316.3 154.1 319.5 155.2 322.5 147.1 322.5 147.7 316.1 148.1 314.9Z" fill="#ff1500"/>
<path d="M149.7 316.8 150.1 316.7 150.9 316.9 152.1 318.1 153.3 320 154.3 322.5 148.6 322.5 149 318.2 149.3 317.2Z" fill="#d60000"/>
<path d="M151.1 321 151.3 320.8 151.7 320.9 152.1 321.2 152.7 322.5 150.7 322.5Z" fill="#980000"/>
</g>
<clipPath id="cdM"><rect x="28.5" y="322.80" width="172" height="51.40"/></clipPath>
<g clip-path="url(#cdM)" stroke="#000" stroke-width="0.45" stroke-linejoin="round" fill-rule="evenodd">
<path d="M103.6 322.5 166 322.5 185.1 324.8 188.9 325.4 189.8 325.8 189.1 326.4 123.7 374.5 63 374.5 42.7 372.1 38.8 371.5 37.8 371.1 38.3 370.5Z" fill="#2424b4"/>
<path d="M118 322.5 164.1 322.5 174.7 324 176.4 324.4 176.9 324.8 109.3 374.5 64.8 374.5 53.8 373 50.7 372.2 50.7 372 51.2 371.6Z" fill="#0005ff"/>
<path d="M124.5 322.6 124.6 322.5 162.7 322.5 169.5 323.6 170.8 324 170.9 324.2 102.7 374.5 66.1 374.5 58.8 373.4 56.6 372.8 56.7 372.5 57.1 372.1Z" fill="#0048ff"/>
<path d="M128.7 322.5 161.6 322.5 166.2 323.4 167.3 323.9 98.6 374.5 67.2 374.5 61.5 373.5 60.3 373 60.7 372.5Z" fill="#008cff"/>
<path d="M131.7 322.5 160.6 322.5 163.9 323.2 164.6 323.6 164 324.2 95.7 374.5 68.1 374.5 64.2 373.8 62.9 373.2 63.5 372.6Z" fill="#00daff"/>
<path d="M133.9 322.5 159.7 322.5 162 323.1 162.6 323.5 93.4 374.5 68.9 374.5 65 373.5 65 373.2 65.4 372.9Z" fill="#6effff"/>
<path d="M135.7 322.6 135.8 322.5 158.8 322.5 160.4 323 160.9 323.4 91.5 374.5 69.7 374.5 66.7 373.6 66.7 373.4 67.1 373Z" fill="#ffffff"/>
<path d="M137.3 322.6 137.4 322.5 158 322.5 159.3 323 159.4 323.2 89.9 374.5 70.5 374.5 68.1 373.8 68.1 373.5 68.6 373.1Z" fill="#ffffff"/>
<path d="M138.8 322.5 157.2 322.5 158.2 323.1 88.5 374.5 71.2 374.5 69.5 373.9 69.4 373.6 69.8 373.2Z" fill="#ffff3d"/>
<path d="M140 322.6 140.1 322.5 156.4 322.5 157 323 87.2 374.5 71.9 374.5 70.6 373.9 71.1 373.2Z" fill="#ffd200"/>
<path d="M141.3 322.6 141.4 322.5 155.6 322.5 155.9 322.9 155.3 323.5 85.9 374.5 72.6 374.5 71.7 374 71.8 373.8 72.2 373.4Z" fill="#ff9700"/>
<path d="M142.5 322.6 142.6 322.5 154.7 322.5 154.8 322.8 154.2 323.4 84.7 374.5 73.4 374.5 72.9 374.1 72.8 373.9 73.3 373.5Z" fill="#ff5800"/>
<path d="M143.9 322.5 153.7 322.5 153.6 322.9 152.9 323.4 83.4 374.5 74.3 374.5 74 374.2 74 374 74.5 373.5Z" fill="#ff1500"/>
<path d="M145.3 322.5 152.5 322.5 82 374.5 75.3 374.5 75.2 374.1 75.7 373.7Z" fill="#d60000"/>
<path d="M147.3 322.6 147.4 322.5 150.5 322.5 79.9 374.5 77 374.5 77.7 373.8Z" fill="#980000"/>
</g>
<clipPath id="cdB"><rect x="28.5" y="374.80" width="172" height="60.10"/></clipPath>
<g clip-path="url(#cdB)" stroke="#000" stroke-width="0.45" stroke-linejoin="round" fill-rule="evenodd">
<path d="M64.6 374.5 125.1 374.5 121.2 434.8 102.8 434.8 101.9 433.2 94.9 424.6 88.7 416.5 83.8 409.8 79.9 403.8 76 397.2 71.9 389.8 65.9 377.8Z" fill="#2424b4"/>
<path d="M66.3 374.5 110.7 374.5 107.6 423 107.2 425.8 106.5 427.2 106.1 427.5 105.3 427.7 103.7 427.3 101.7 426.1 98.9 424 95.7 421.1 92.1 417.3 88.5 413.2 84.9 408.7 79.9 401.5 75.4 394 69.9 383 67.1 376.8Z" fill="#0005ff"/>
<path d="M67.5 374.5 104.1 374.5 101.6 413.5 101.1 416.2 100.7 417.2 100.2 417.8 99.3 418.1 97.7 417.8 95.7 416.9 93.3 415.2 90.9 413.1 88.1 410.3 82.9 404.1 78.8 398 75.1 391.5 70.3 381.5 68.2 376.5Z" fill="#0048ff"/>
<path d="M68.6 374.5 100 374.5 97.9 407.5 97.4 410.2 96.9 411.2 96.5 411.7 95.3 412.2 94.1 412 92.5 411.3 90.5 410.1 88.5 408.5 86.1 406.2 82.1 401.4 78.5 396 75 389.8 71.1 381.2 69.2 376.5Z" fill="#008cff"/>
<path d="M69.5 374.5 97.1 374.5 95.2 403.5 94.6 406.2 93.7 407.5 92.9 407.9 91.7 407.8 90.1 407.2 88.5 406.3 84.9 403.2 81.3 398.9 78.1 394 75 388.2 71.5 380.2 70 376.2Z" fill="#00daff"/>
<path d="M70.3 374.5 94.8 374.5 93.1 400.2 92.6 402.8 91.7 404.1 90.9 404.5 89.7 404.5 88.5 404.1 86.9 403.2 84.1 400.8 80.9 397 78 392.5 75.1 387 71.9 379.5Z" fill="#6effff"/>
<path d="M71 374.5 92.9 374.5 91.4 397.2 90.9 400 90.1 401.2 89.3 401.7 88.5 401.7 87.3 401.4 86.1 400.8 83.3 398.5 80.5 395.1 77.7 390.8 75.2 385.8 72.6 379.5Z" fill="#ffffff"/>
<path d="M71.8 374.5 91.3 374.5 89.9 395.2 89.4 397.8 88.5 398.9 87.7 399.2 86.9 399.2 84.9 398.3 82.5 396.3 80.1 393.3 77.7 389.4 75.4 384.8 73 378.8Z" fill="#ffffff"/>
<path d="M72.5 374.5 89.9 374.5 88.7 393 88.1 395.5 87.3 396.6 86.5 396.9 85.7 396.9 84.1 396.2 82.1 394.5 79.7 391.4 77.7 388 75.5 383.5 73.5 378.2Z" fill="#ffff3d"/>
<path d="M73.2 374.5 88.6 374.5 87.5 391.2 86.9 393.5 86.1 394.5 85.3 394.8 84.5 394.6 82.9 393.8 81.3 392.2 79.3 389.5 77.3 386 75.7 382.4 74 377.8Z" fill="#ffd200"/>
<path d="M73.9 374.5 87.3 374.5 86.3 389.5 85.8 391.5 84.9 392.5 83.7 392.5 82.1 391.6 80.5 389.9 78.9 387.5 77.3 384.5 75.8 381 74.5 377.1Z" fill="#ff9700"/>
<path d="M74.6 374.5 86.1 374.5 85.3 387.2 84.9 389 84.5 389.8 84.1 390.2 83.7 390.4 82.9 390.3 81.7 389.6 80.5 388.4 78.9 386 77.7 383.8 76.2 380.2 75.2 377Z" fill="#ff5800"/>
<path d="M75.5 374.5 84.9 374.5 84.1 385.4 83.7 387.1 83.3 387.7 82.9 388 82.1 387.9 80.9 387.1 78.9 384.4 76.8 379.8 76 377Z" fill="#ff1500"/>
<path d="M76.5 374.5 83.4 374.5 82.9 382.5 82.5 384.2 82.1 385 81.3 385.1 80.5 384.5 78.9 382.3 77.3 378.4Z" fill="#d60000"/>
<path d="M78.3 374.5 81.3 374.5 81 379 80.5 380.4 80.1 380.3 79.7 380 78.9 378.4 78.5 376.8Z" fill="#980000"/>
</g>
<rect x="28.5" y="271.5" width="172" height="163.4" fill="none" stroke="#111" stroke-width="1"/>
<path d="M28.5 322.5H200.5M28.5 374.5H200.5" stroke="#222" stroke-width="1" fill="none"/>
<path d="M57.2 322.5v-1.8M57.2 271.5v1.8M85.8 322.5v-1.8M85.8 271.5v1.8M114.5 322.5v-1.8M114.5 271.5v1.8M143.2 322.5v-1.8M143.2 271.5v1.8M171.8 322.5v-1.8M171.8 271.5v1.8M57.2 374.5v-1.8M57.2 322.5v1.8M85.8 374.5v-1.8M85.8 322.5v1.8M114.5 374.5v-1.8M114.5 322.5v1.8M143.2 374.5v-1.8M143.2 322.5v1.8M171.8 374.5v-1.8M171.8 322.5v1.8M57.2 434.9v-1.8M57.2 374.5v1.8M85.8 434.9v-1.8M85.8 374.5v1.8M114.5 434.9v-1.8M114.5 374.5v1.8M143.2 434.9v-1.8M143.2 374.5v1.8M171.8 434.9v-1.8M171.8 374.5v1.8" stroke="#111" stroke-width="0.8" fill="none"/>
<path d="M28.5 289.2h1.8M200.5 289.2h-1.8M28.5 320.4h1.8M200.5 320.4h-1.8M28.5 331.1h1.8M200.5 331.1h-1.8M28.5 348.5h1.8M200.5 348.5h-1.8M28.5 365.9h1.8M200.5 365.9h-1.8M28.5 377.4h1.8M200.5 377.4h-1.8M28.5 413.7h1.8M200.5 413.7h-1.8" stroke="#111" stroke-width="0.8" fill="none"/>
<text x="27.2" y="446.3" font-size="10" text-anchor="middle" fill="#111" >-6</text>
<text x="55.9" y="446.3" font-size="10" text-anchor="middle" fill="#111" >-4</text>
<text x="84.5" y="446.3" font-size="10" text-anchor="middle" fill="#111" >-2</text>
<text x="114.5" y="446.3" font-size="10" text-anchor="middle" fill="#111" >0</text>
<text x="143.2" y="446.3" font-size="10" text-anchor="middle" fill="#111" >2</text>
<text x="171.8" y="446.3" font-size="10" text-anchor="middle" fill="#111" >4</text>
<text x="200.5" y="446.3" font-size="10" text-anchor="middle" fill="#111" >6</text>
<text x="26.6" y="293.1" font-size="10" text-anchor="end" fill="#111" >-80</text>
<text x="26.6" y="324.8" font-size="10" text-anchor="end" fill="#111" >-75</text>
<text x="26.6" y="335" font-size="10" text-anchor="end" fill="#111" >-50</text>
<text x="26.6" y="352.4" font-size="10" text-anchor="end" fill="#111" >0</text>
<text x="26.6" y="370.4" font-size="10" text-anchor="end" fill="#111" >50</text>
<text x="26.6" y="382.2" font-size="10" text-anchor="end" fill="#111" >75</text>
<text x="26.6" y="417.9" font-size="10" text-anchor="end" fill="#111" >80</text>
<text x="114.9" y="456.7" font-size="10.5" text-anchor="middle" fill="#111" font-style="italic" >z (mm)</text>
<text transform="translate(8.2 348.4) rotate(-90)" font-size="10.5" font-style="italic" text-anchor="middle" fill="#111">t (ps)</text>
<text x="34" y="282.8" font-size="13.5" text-anchor="start" fill="#fff" font-weight="bold" >d</text>
<linearGradient id="cbd" x1="0" x2="0" y1="322.6" y2="270.9" gradientUnits="userSpaceOnUse"><stop offset="0.000" stop-color="#303078"/><stop offset="0.065" stop-color="#2424b4"/><stop offset="0.125" stop-color="#0000ff"/><stop offset="0.260" stop-color="#008cff"/><stop offset="0.355" stop-color="#00ffff"/><stop offset="0.435" stop-color="#ffffff"/><stop offset="0.535" stop-color="#ffffff"/><stop offset="0.600" stop-color="#ffff00"/><stop offset="0.740" stop-color="#ff8000"/><stop offset="0.865" stop-color="#ff0000"/><stop offset="1.000" stop-color="#800000"/></linearGradient>
<rect x="201.8" y="270.9" width="11" height="51.7" fill="url(#cbd)" stroke="#555" stroke-width="0.5"/>
<text x="214.2" y="324.9" font-size="10" text-anchor="start" fill="#111" >0</text>
<text x="214.2" y="309.7" font-size="10" text-anchor="start" fill="#111" >5</text>
<text x="214.2" y="293.4" font-size="10" text-anchor="start" fill="#111" >10</text>
<text x="214.2" y="276.8" font-size="10" text-anchor="start" fill="#111" >15</text>
<text x="209.6" y="254.8" font-size="10" fill="#111">(W/cm<tspan font-size="7.5" dy="-4">2</tspan><tspan dy="4">)</tspan></text>
<text x="213.2" y="268.3" font-size="10" fill="#111">x 10<tspan font-size="7.5" dy="-5.2">11</tspan></text>
<text x="160.6" y="315.1" font-size="10" font-style="italic" fill="#fff">&#965;<tspan font-size="6.9" dy="1.6">FLFO</tspan><tspan dy="-1.6"> = c</tspan></text>
<text x="137.2" y="367" font-size="10" font-style="italic" fill="#fff">&#965;<tspan font-size="6.9" dy="1.6">FLFO</tspan><tspan dy="-1.6"> = -0.11c</tspan></text>
<text x="159" y="427.7" font-size="10" font-style="italic" fill="#fff">&#965;<tspan font-size="6.9" dy="1.6">FLFO</tspan><tspan dy="-1.6"> = c</tspan></text>
<clipPath id="cfT"><rect x="254.5" y="271.50" width="172" height="50.70"/></clipPath>
<g clip-path="url(#cfT)" stroke="#000" stroke-width="0.45" stroke-linejoin="round" fill-rule="evenodd">
<path d="M358 294.2 358.9 294.4 359.7 294.8 363.3 298 367.3 302.4 370.5 306.7 372.9 310.8 374.9 315.1 376.3 319.2 376.9 322.5 355.2 322.5 357.2 296.5 357.4 295 357.7 294.4Z" fill="#ffff39"/>
<path d="M364.3 303.5 364.9 303.4 365.7 303.7 367.7 305.3 370.1 308.1 372.1 311.1 373.7 314.1 374.9 317.1 375.6 320 375.8 322.5 362.4 322.5 363.6 305.8 363.9 304.2Z" fill="#ffd500"/>
<path d="M368.3 309.8 368.9 309.7 369.3 309.9 370.5 311 371.7 312.6 372.9 314.7 373.7 316.7 374.1 318.5 374.1 322.5 366.9 322.5 367.7 311.6 368 310.2Z" fill="#ff9e00"/>
<path d="M361.1 280.5 361.7 280.4 362.9 281.1 366.1 283.9 370.9 289.2 376.6 296.2 381.2 302.5 385.5 309 392 319.8 393.2 322.5 378.4 322.5 377.9 320.2 376.5 316.2 373.3 308 370.5 302.2 364.2 290.5 362 286 360.8 282.2 360.8 281Z" fill="#97ffff"/>
<path d="M369.5 292.5 369.7 292.3 370.5 292.4 372.9 294.2 376.1 297.6 379.7 302.1 383.1 307 386.3 312.2 390.3 319.5 391.6 322.5 379 322.5 378.3 319.8 375.5 311.5 369.9 296.8 369.2 294 369.2 293Z" fill="#00efff"/>
<path d="M373.5 298.5 374.1 298.3 374.5 298.5 376.5 300 378.9 302.6 381.3 305.8 384 310 386.6 314.5 389.2 319.8 390.3 322.5 379.6 322.5 373.7 303 373.2 300 373.2 299Z" fill="#00a5ff"/>
<path d="M376 303 376.5 302.8 376.9 302.8 378.1 303.6 380.1 305.8 382.1 308.6 384.1 311.8 386.2 315.8 388.1 320 389 322.5 380.2 322.5 377.7 314 376.2 308 375.7 304.8 375.7 303.8Z" fill="#0062ff"/>
<path d="M378.4 306.8 379.3 307.1 380.5 308.2 383.3 312.3 386.1 317.9 387.2 320.8 387.7 322.5 380.9 322.5 378.9 315.6 377.9 311 377.7 307.8 377.9 307Z" fill="#0023ff"/>
<path d="M380.1 311 380.5 311.1 381.3 311.7 383.3 314.7 385.3 319.1 386.2 322.5 381.9 322.5 380.5 318.1 379.7 314.6 379.5 312 379.7 311.3Z" fill="#1010dd"/>
<path d="M346.4 271.5 348.3 274.5 365.7 297.5 370.1 304 372.5 308.3 374.9 313.5 376.9 319 377.7 322.5" fill="none" stroke-width="0.4"/>
</g>
<clipPath id="cfM"><rect x="254.5" y="322.80" width="172" height="51.40"/></clipPath>
<g clip-path="url(#cfM)" stroke="#000" stroke-width="0.45" stroke-linejoin="round" fill-rule="evenodd">
<path d="M352 322.5 373.8 322.5 304.2 373.8 303.5 374.5 287.2 374.5 278.4 373.4 276.1 372.9 282.9 372.7 284.3 372.2Z" fill="#ffff39"/>
<path d="M359.1 322.5 372.6 322.5 303 373.6 302.5 374.1 302.6 374.5 289.2 374.5 284.7 373.6 284.6 373.5 285.3 373.4 289.7 373.2 290.8 372.8Z" fill="#ffd500"/>
<path d="M363.6 322.5 370.9 322.5 301.5 373.5 301.1 374 301.8 374.5 290.8 374.5 288.9 373.9 293.6 373.5 294.8 373.1Z" fill="#ff9e00"/>
<path d="M295.3 373.9 298.5 374 301 374.5 292.4 374.5 291.8 374.1Z" fill="#ff6300"/>
<path d="M294.2 374.2 297.3 374.2 300 374.5 294 374.5Z" fill="#ff2500"/>
<path d="M296.1 374.5 298.4 374.5Z" fill="#e70000"/>
<path d="M376.3 322.5 393.4 322.5 401.1 323.8 395.3 324 393.7 324.4 325.5 374.5 305.7 374.5Z" fill="#97ffff"/>
<path d="M377.7 322.6 377.7 322.5 390.9 322.5 393 323.1 388.5 323.5 387.2 323.9 318.4 374.5 307.3 374.5Z" fill="#00efff"/>
<path d="M379.1 322.5 388.7 322.5 389 322.8 388 323 382.6 323.2 381.8 323.5 312.5 374.5 310.5 374.5 380.2 323.2 380 323Z" fill="#00a5ff"/>
<path d="M380.6 322.5 386.4 322.5 384.1 322.8Z" fill="#0062ff"/>
<path d="M375 322.5 304.5 374.5" fill="none" stroke-width="0.4"/>
</g>
<clipPath id="cfB"><rect x="254.5" y="374.80" width="172" height="60.10"/></clipPath>
<g clip-path="url(#cfB)" stroke="#000" stroke-width="0.45" stroke-linejoin="round" fill-rule="evenodd">
<path d="M288.6 374.5 304.8 374.5 305 377 305.7 380.2 308.7 390.2 312.1 399.2 319 414.2 321.5 420 323 425 323.1 426.5 322.9 427 322.6 427.2 321.7 427.1 320.5 426.2 316.9 422.3 311.7 415.4 306 407 301.5 399.8 297.1 391.8 290.7 379.2 289.1 376Z" fill="#ffff39"/>
<path d="M290.5 374.5 303.8 374.5 304.7 378.8 307.2 387.5 314 408.8 314.6 412 314.5 412.8 314.1 413.4 313.3 413.3 312.5 412.8 309.7 410 306.5 405.7 302.8 400 299.5 394.2 295.9 387.2 291.9 378.5Z" fill="#ffd500"/>
<path d="M292.1 374.5 303 374.5 310 400.8 310.6 404.8 310.5 405.8 310.1 406.4 309.3 406.3 308.5 405.8 306.5 403.6 304.1 400.3 301.3 395.7 298.4 390.2 295.9 384.8 293.2 378Z" fill="#ff9e00"/>
<path d="M293.6 374.5 302.2 374.5 305.3 385.2 307.3 393.8 308.1 398.8 308 400.2 307.7 401.1 307.3 401.3 306.5 401 304.9 399.4 302.9 396.6 300.5 392.4 298.2 387.8 296.3 383 294.4 377.8Z" fill="#ff6300"/>
<path d="M295.1 374.5 301.3 374.5 303.7 381.9 305.3 388.5 306.1 394 306.1 395.5 305.7 396.5 305.3 396.7 304.9 396.6 303.3 395 301.7 392.5 300.1 389.5 298.5 385.9 296.9 381.6 295.7 377.5Z" fill="#ff2500"/>
<path d="M297 374.5 300 374.5 301.7 378.5 303.3 383.7 304.1 387.8 304.2 390.5 304.1 391.3 303.7 391.7 302.9 391.4 301.7 389.8 300.5 387.6 299.3 384.8 297.6 379.2 297.2 376.8Z" fill="#e70000"/>
<path d="M306.9 374.8 306.9 374.5 328.8 374.5 326.6 408.5 326.3 410.5 325.7 411.2 324.9 411.1 323.3 409.9 319.3 405.4 315.3 400 312.1 394.5 309.7 389.2 307.7 383.2 306.9 379.2Z" fill="#97ffff"/>
<path d="M308.2 374.5 321.6 374.5 320.1 398 319.8 399.8 319.3 400.5 318.5 400.5 317.7 399.9 315.3 397.4 312.9 393.9 310.5 389.2 308.9 384.9 308.1 381.5 308 379Z" fill="#00efff"/>
<path d="M309.9 374.5 317.1 374.5 316 391 315.7 392.8 315.3 393.3 314.9 393.3 314.1 392.7 312.5 390.7 311.3 388.5 310.1 385.4 309.7 383.7 309.5 381.8Z" fill="#00a5ff"/>
<path d="M305.8 374.5 306 378.8 307.2 383.8 309.7 391.1 312.5 397.5 314.9 402 317.7 406.7 334 431.8 335.6 434.8" fill="none" stroke-width="0.4"/>
</g>
<rect x="254.5" y="271.5" width="172" height="163.4" fill="none" stroke="#4d4d4d" stroke-width="1"/>
<path d="M254.5 322.5H426.5M254.5 374.5H426.5" stroke="#222" stroke-width="1" fill="none"/>
<path d="M283.2 322.5v-1.8M283.2 271.5v1.8M311.8 322.5v-1.8M311.8 271.5v1.8M340.5 322.5v-1.8M340.5 271.5v1.8M369.2 322.5v-1.8M369.2 271.5v1.8M397.8 322.5v-1.8M397.8 271.5v1.8M283.2 374.5v-1.8M283.2 322.5v1.8M311.8 374.5v-1.8M311.8 322.5v1.8M340.5 374.5v-1.8M340.5 322.5v1.8M369.2 374.5v-1.8M369.2 322.5v1.8M397.8 374.5v-1.8M397.8 322.5v1.8M283.2 434.9v-1.8M283.2 374.5v1.8M311.8 434.9v-1.8M311.8 374.5v1.8M340.5 434.9v-1.8M340.5 374.5v1.8M369.2 434.9v-1.8M369.2 374.5v1.8M397.8 434.9v-1.8M397.8 374.5v1.8" stroke="#4d4d4d" stroke-width="0.8" fill="none"/>
<path d="M254.5 289.2h1.8M426.5 289.2h-1.8M254.5 320.4h1.8M426.5 320.4h-1.8M254.5 331.1h1.8M426.5 331.1h-1.8M254.5 348.5h1.8M426.5 348.5h-1.8M254.5 365.9h1.8M426.5 365.9h-1.8M254.5 377.4h1.8M426.5 377.4h-1.8M254.5 413.7h1.8M426.5 413.7h-1.8" stroke="#4d4d4d" stroke-width="0.8" fill="none"/>
<text x="253.2" y="446.3" font-size="10" text-anchor="middle" fill="#111" >-6</text>
<text x="281.9" y="446.3" font-size="10" text-anchor="middle" fill="#111" >-4</text>
<text x="310.5" y="446.3" font-size="10" text-anchor="middle" fill="#111" >-2</text>
<text x="340.5" y="446.3" font-size="10" text-anchor="middle" fill="#111" >0</text>
<text x="369.2" y="446.3" font-size="10" text-anchor="middle" fill="#111" >2</text>
<text x="397.8" y="446.3" font-size="10" text-anchor="middle" fill="#111" >4</text>
<text x="426.5" y="446.3" font-size="10" text-anchor="middle" fill="#111" >6</text>
<text x="252.6" y="293.1" font-size="10" text-anchor="end" fill="#111" >-80</text>
<text x="252.6" y="324.8" font-size="10" text-anchor="end" fill="#111" >-75</text>
<text x="252.6" y="335" font-size="10" text-anchor="end" fill="#111" >-50</text>
<text x="252.6" y="352.4" font-size="10" text-anchor="end" fill="#111" >0</text>
<text x="252.6" y="370.4" font-size="10" text-anchor="end" fill="#111" >50</text>
<text x="252.6" y="382.2" font-size="10" text-anchor="end" fill="#111" >75</text>
<text x="252.6" y="417.9" font-size="10" text-anchor="end" fill="#111" >80</text>
<text x="340.9" y="456.7" font-size="10.5" text-anchor="middle" fill="#111" font-style="italic" >z (mm)</text>
<text transform="translate(234.2 348.4) rotate(-90)" font-size="10.5" font-style="italic" text-anchor="middle" fill="#111">t (ps)</text>
<text x="261.7" y="282.8" font-size="13.5" text-anchor="start" fill="#000" font-weight="bold" >f</text>
<linearGradient id="cbf" x1="0" x2="0" y1="322.6" y2="270.9" gradientUnits="userSpaceOnUse"><stop offset="0.000" stop-color="#303078"/><stop offset="0.065" stop-color="#2424b4"/><stop offset="0.125" stop-color="#0000ff"/><stop offset="0.260" stop-color="#008cff"/><stop offset="0.355" stop-color="#00ffff"/><stop offset="0.435" stop-color="#ffffff"/><stop offset="0.535" stop-color="#ffffff"/><stop offset="0.600" stop-color="#ffff00"/><stop offset="0.740" stop-color="#ff8000"/><stop offset="0.865" stop-color="#ff0000"/><stop offset="1.000" stop-color="#800000"/></linearGradient>
<rect x="427.8" y="270.9" width="10.9" height="51.7" fill="url(#cbf)" stroke="#555" stroke-width="0.5"/>
<text x="440.2" y="285.9" font-size="10" text-anchor="start" fill="#111" >2</text>
<text x="440.2" y="299.1" font-size="10" text-anchor="start" fill="#111" >0</text>
<text x="440.2" y="311.9" font-size="10" text-anchor="start" fill="#111" >-2</text>
<text x="440.2" y="324.3" font-size="10" text-anchor="start" fill="#111" >-4</text>
<text x="448.2" y="254.8" font-size="10" text-anchor="start" fill="#111" >(pN)</text>
<text x="439.2" y="268.3" font-size="10" fill="#111">x 10<tspan font-size="7.5" dy="-5.2">-4</tspan></text>
<clipPath id="chT"><rect x="480.9" y="271.50" width="171.7" height="50.70"/></clipPath>
<g clip-path="url(#chT)" stroke="#000" stroke-width="0.45" stroke-linejoin="round" fill-rule="evenodd">
<path d="M575.9 279.8 577.3 279.9 578.9 280.6 581.3 282.1 584.1 284.2 590.5 290 596.5 296.4 600.7 301.8 604.4 307.2 609.4 316.5 611.6 320.8 612.3 322.5 571.6 322.5 574.6 282.8 575.1 280.5 575.4 280Z" fill="#ffff2a"/>
<path d="M585.4 293.2 586.5 293.1 587.7 293.3 589.3 294 591.3 295.2 595.3 298.3 598.9 302 602.1 306.2 605 310.8 608.7 318 610.6 322.5 582.2 322.5 584.2 296.2 584.6 294.2Z" fill="#ffcf00"/>
<path d="M590.2 299.8 590.9 299.6 592.1 299.7 594.5 300.8 597.3 302.8 600.1 305.7 602.5 308.9 605 313 607.9 319 609.3 322.5 587.4 322.5 588.9 302.5 589.3 300.7 589.7 300.1Z" fill="#ff9500"/>
<path d="M593.2 304.2 594.5 304.1 596.5 304.8 598.5 306.3 600.9 308.7 602.9 311.5 604.9 315 607.2 319.8 608.1 322.5 590.8 322.5 592 307 592.5 305Z" fill="#ff5700"/>
<path d="M596.1 307.8 597.3 308 598.9 308.9 600.1 310 601.7 311.8 603.3 314.2 604.9 317.1 606.4 320.5 607 322.5 593.5 322.5 594.5 309.9 595.1 308.2Z" fill="#ff1600"/>
<path d="M597.4 311.5 598.1 311.3 599.3 311.7 600.5 312.6 601.7 314 604.1 317.8 605.3 320.5 605.9 322.5 595.9 322.5 596.5 313.7 596.9 312.2Z" fill="#d70000"/>
<path d="M599.5 315.5 600.1 315.4 600.5 315.5 602.1 317.1 603.7 320 604.5 322.5 598.4 322.5 598.9 317 599.1 316Z" fill="#9b0000"/>
<path d="M582.8 271.5 583.7 273.1 595.5 290 601.1 298.5 610.9 314.9 614.7 321 615.4 322.5" fill="none" stroke-width="0.4"/>
</g>
<clipPath id="chM"><rect x="480.9" y="322.80" width="171.7" height="51.40"/></clipPath>
<g clip-path="url(#chM)" stroke="#000" stroke-width="0.45" stroke-linejoin="round" fill-rule="evenodd">
<path d="M568.3 322.5 612.7 322.5 623 323.9 625.4 324.5 624.8 325.1 557.8 374.5 515.2 374.5 503.8 373 501.7 372.6 500.8 372.2Z" fill="#ffff2a"/>
<path d="M578.9 322.6 579 322.5 610.5 322.5 615.1 323.4 615.9 323.8 547.1 374.5 517.4 374.5 512.2 373.6 510.4 373.1 510.5 372.9Z" fill="#ffcf00"/>
<path d="M584 322.6 584.1 322.5 608.8 322.5 611 323.1 611.3 323.4 542.1 374.5 519.1 374.5 515.1 373.5 515.2 373.2Z" fill="#ff9500"/>
<path d="M587.6 322.5 607.4 322.5 608.4 323.1 538.8 374.5 520.5 374.5 518.2 373.8 518.3 373.5Z" fill="#ff5700"/>
<path d="M590.2 322.5 605.9 322.5 606.2 322.9 536.3 374.5 521.8 374.5 520.6 374 520.6 373.8Z" fill="#ff1600"/>
<path d="M592.6 322.5 604.4 322.5 603.7 323.2 534.1 374.5 523.2 374.5 522.7 374.1 522.8 373.9Z" fill="#d70000"/>
<path d="M595.2 322.5 602.2 322.5 531.8 374.5 524.8 374.5 524.9 374.1Z" fill="#9b0000"/>
<path d="M617.2 322.5 652.5 325.3" fill="none" stroke-width="0.4"/>
</g>
<clipPath id="chB"><rect x="480.9" y="374.80" width="171.7" height="60.10"/></clipPath>
<g clip-path="url(#chB)" stroke="#000" stroke-width="0.45" stroke-linejoin="round" fill-rule="evenodd">
<path d="M516.7 374.5 559.2 374.5 556.5 416.2 556.5 419 557.1 426 556.8 427.2 556.4 428 555.3 428.4 553.7 428 551.7 426.8 548.9 424.6 546.1 422 542.9 418.6 536.5 410.7 531.2 403 526.3 394.8 520.4 383 517.5 376.8Z" fill="#ffff2a"/>
<path d="M518.8 374.5 548.5 374.5 546.9 400.5 547.3 409.8 547 411.5 546.2 412.5 544.9 412.8 543.7 412.6 542.1 411.8 540.5 410.7 538.5 409.1 536.5 407.1 532.5 402.1 528.7 396.2 525.1 389.5 521 380.5 519.4 376.5Z" fill="#ffcf00"/>
<path d="M520.4 374.5 543.5 374.5 542.3 393 542.7 402 542.2 404 541.3 405 540.5 405.3 539.3 405.2 536.9 403.9 534.1 401.4 530.9 397.3 528 392.5 525.1 386.8 522 379.2Z" fill="#ff9500"/>
<path d="M521.8 374.5 540.2 374.5 539.4 388.5 539.6 396.8 539.3 398.6 538.5 399.8 537.7 400.1 536.9 400.1 534.9 399.2 532.5 397 530.1 393.8 527.7 389.6 525.4 384.7 523.1 378.8Z" fill="#ff5700"/>
<path d="M523.1 374.5 537.7 374.5 537.1 385 537.4 392.8 536.9 394.8 536.1 395.7 534.9 395.9 533.3 395.1 531.7 393.5 529.7 390.8 527.7 387.2 525.9 383 524 378Z" fill="#ff1600"/>
<path d="M524.4 374.5 535.5 374.5 535.1 382 535.4 389.2 535 391 534.3 391.8 533.3 391.9 532.1 391.2 530.9 389.9 529.3 387.6 527.7 384.5 526.5 381.5 525.1 377.5Z" fill="#d70000"/>
<path d="M525.9 374.5 533.2 374.5 533 378.8 533.4 385.5 533.2 386.8 532.9 387.2 532.5 387.5 531.7 387.4 530.9 386.8 530.1 385.8 528.9 383.8 526.9 378.9Z" fill="#9b0000"/>
</g>
<rect x="480.9" y="271.5" width="171.7" height="163.4" fill="none" stroke="#4d4d4d" stroke-width="1"/>
<path d="M480.9 322.5H652.6M480.9 374.5H652.6" stroke="#222" stroke-width="1" fill="none"/>
<path d="M509.5 322.5v-1.8M509.5 271.5v1.8M538.1 322.5v-1.8M538.1 271.5v1.8M566.8 322.5v-1.8M566.8 271.5v1.8M595.4 322.5v-1.8M595.4 271.5v1.8M624 322.5v-1.8M624 271.5v1.8M509.5 374.5v-1.8M509.5 322.5v1.8M538.1 374.5v-1.8M538.1 322.5v1.8M566.8 374.5v-1.8M566.8 322.5v1.8M595.4 374.5v-1.8M595.4 322.5v1.8M624 374.5v-1.8M624 322.5v1.8M509.5 434.9v-1.8M509.5 374.5v1.8M538.1 434.9v-1.8M538.1 374.5v1.8M566.8 434.9v-1.8M566.8 374.5v1.8M595.4 434.9v-1.8M595.4 374.5v1.8M624 434.9v-1.8M624 374.5v1.8" stroke="#4d4d4d" stroke-width="0.8" fill="none"/>
<path d="M480.9 289.2h1.8M652.6 289.2h-1.8M480.9 320.4h1.8M652.6 320.4h-1.8M480.9 331.1h1.8M652.6 331.1h-1.8M480.9 348.5h1.8M652.6 348.5h-1.8M480.9 365.9h1.8M652.6 365.9h-1.8M480.9 377.4h1.8M652.6 377.4h-1.8M480.9 413.7h1.8M652.6 413.7h-1.8" stroke="#4d4d4d" stroke-width="0.8" fill="none"/>
<text x="479.6" y="446.3" font-size="10" text-anchor="middle" fill="#111" >-6</text>
<text x="508.2" y="446.3" font-size="10" text-anchor="middle" fill="#111" >-4</text>
<text x="536.8" y="446.3" font-size="10" text-anchor="middle" fill="#111" >-2</text>
<text x="566.8" y="446.3" font-size="10" text-anchor="middle" fill="#111" >0</text>
<text x="595.4" y="446.3" font-size="10" text-anchor="middle" fill="#111" >2</text>
<text x="624" y="446.3" font-size="10" text-anchor="middle" fill="#111" >4</text>
<text x="652.6" y="446.3" font-size="10" text-anchor="middle" fill="#111" >6</text>
<text x="479" y="293.1" font-size="10" text-anchor="end" fill="#111" >-80</text>
<text x="479" y="324.8" font-size="10" text-anchor="end" fill="#111" >-75</text>
<text x="479" y="335" font-size="10" text-anchor="end" fill="#111" >-50</text>
<text x="479" y="352.4" font-size="10" text-anchor="end" fill="#111" >0</text>
<text x="479" y="370.4" font-size="10" text-anchor="end" fill="#111" >50</text>
<text x="479" y="382.2" font-size="10" text-anchor="end" fill="#111" >75</text>
<text x="479" y="417.9" font-size="10" text-anchor="end" fill="#111" >80</text>
<text x="567.1" y="456.7" font-size="10.5" text-anchor="middle" fill="#111" font-style="italic" >z (mm)</text>
<text transform="translate(460.6 348.4) rotate(-90)" font-size="10.5" font-style="italic" text-anchor="middle" fill="#111">t (ps)</text>
<text x="487.2" y="282.8" font-size="13.5" text-anchor="start" fill="#000" font-weight="bold" >h</text>
<linearGradient id="cbh" x1="0" x2="0" y1="322.6" y2="270.9" gradientUnits="userSpaceOnUse"><stop offset="0.000" stop-color="#303078"/><stop offset="0.065" stop-color="#2424b4"/><stop offset="0.125" stop-color="#0000ff"/><stop offset="0.260" stop-color="#008cff"/><stop offset="0.355" stop-color="#00ffff"/><stop offset="0.435" stop-color="#ffffff"/><stop offset="0.535" stop-color="#ffffff"/><stop offset="0.600" stop-color="#ffff00"/><stop offset="0.740" stop-color="#ff8000"/><stop offset="0.865" stop-color="#ff0000"/><stop offset="1.000" stop-color="#800000"/></linearGradient>
<rect x="654.2" y="270.9" width="11.2" height="51.7" fill="url(#cbh)" stroke="#555" stroke-width="0.5"/>
<text x="667" y="282.6" font-size="10" text-anchor="start" fill="#111" >0.1</text>
<text x="667" y="298.9" font-size="10" text-anchor="start" fill="#111" >0</text>
<text x="667" y="315.5" font-size="10" text-anchor="start" fill="#111" >-0.1</text>
<text x="665.5" y="261.7" font-size="10" text-anchor="start" fill="#111" >(pN)</text>
</svg>
</body></html>
